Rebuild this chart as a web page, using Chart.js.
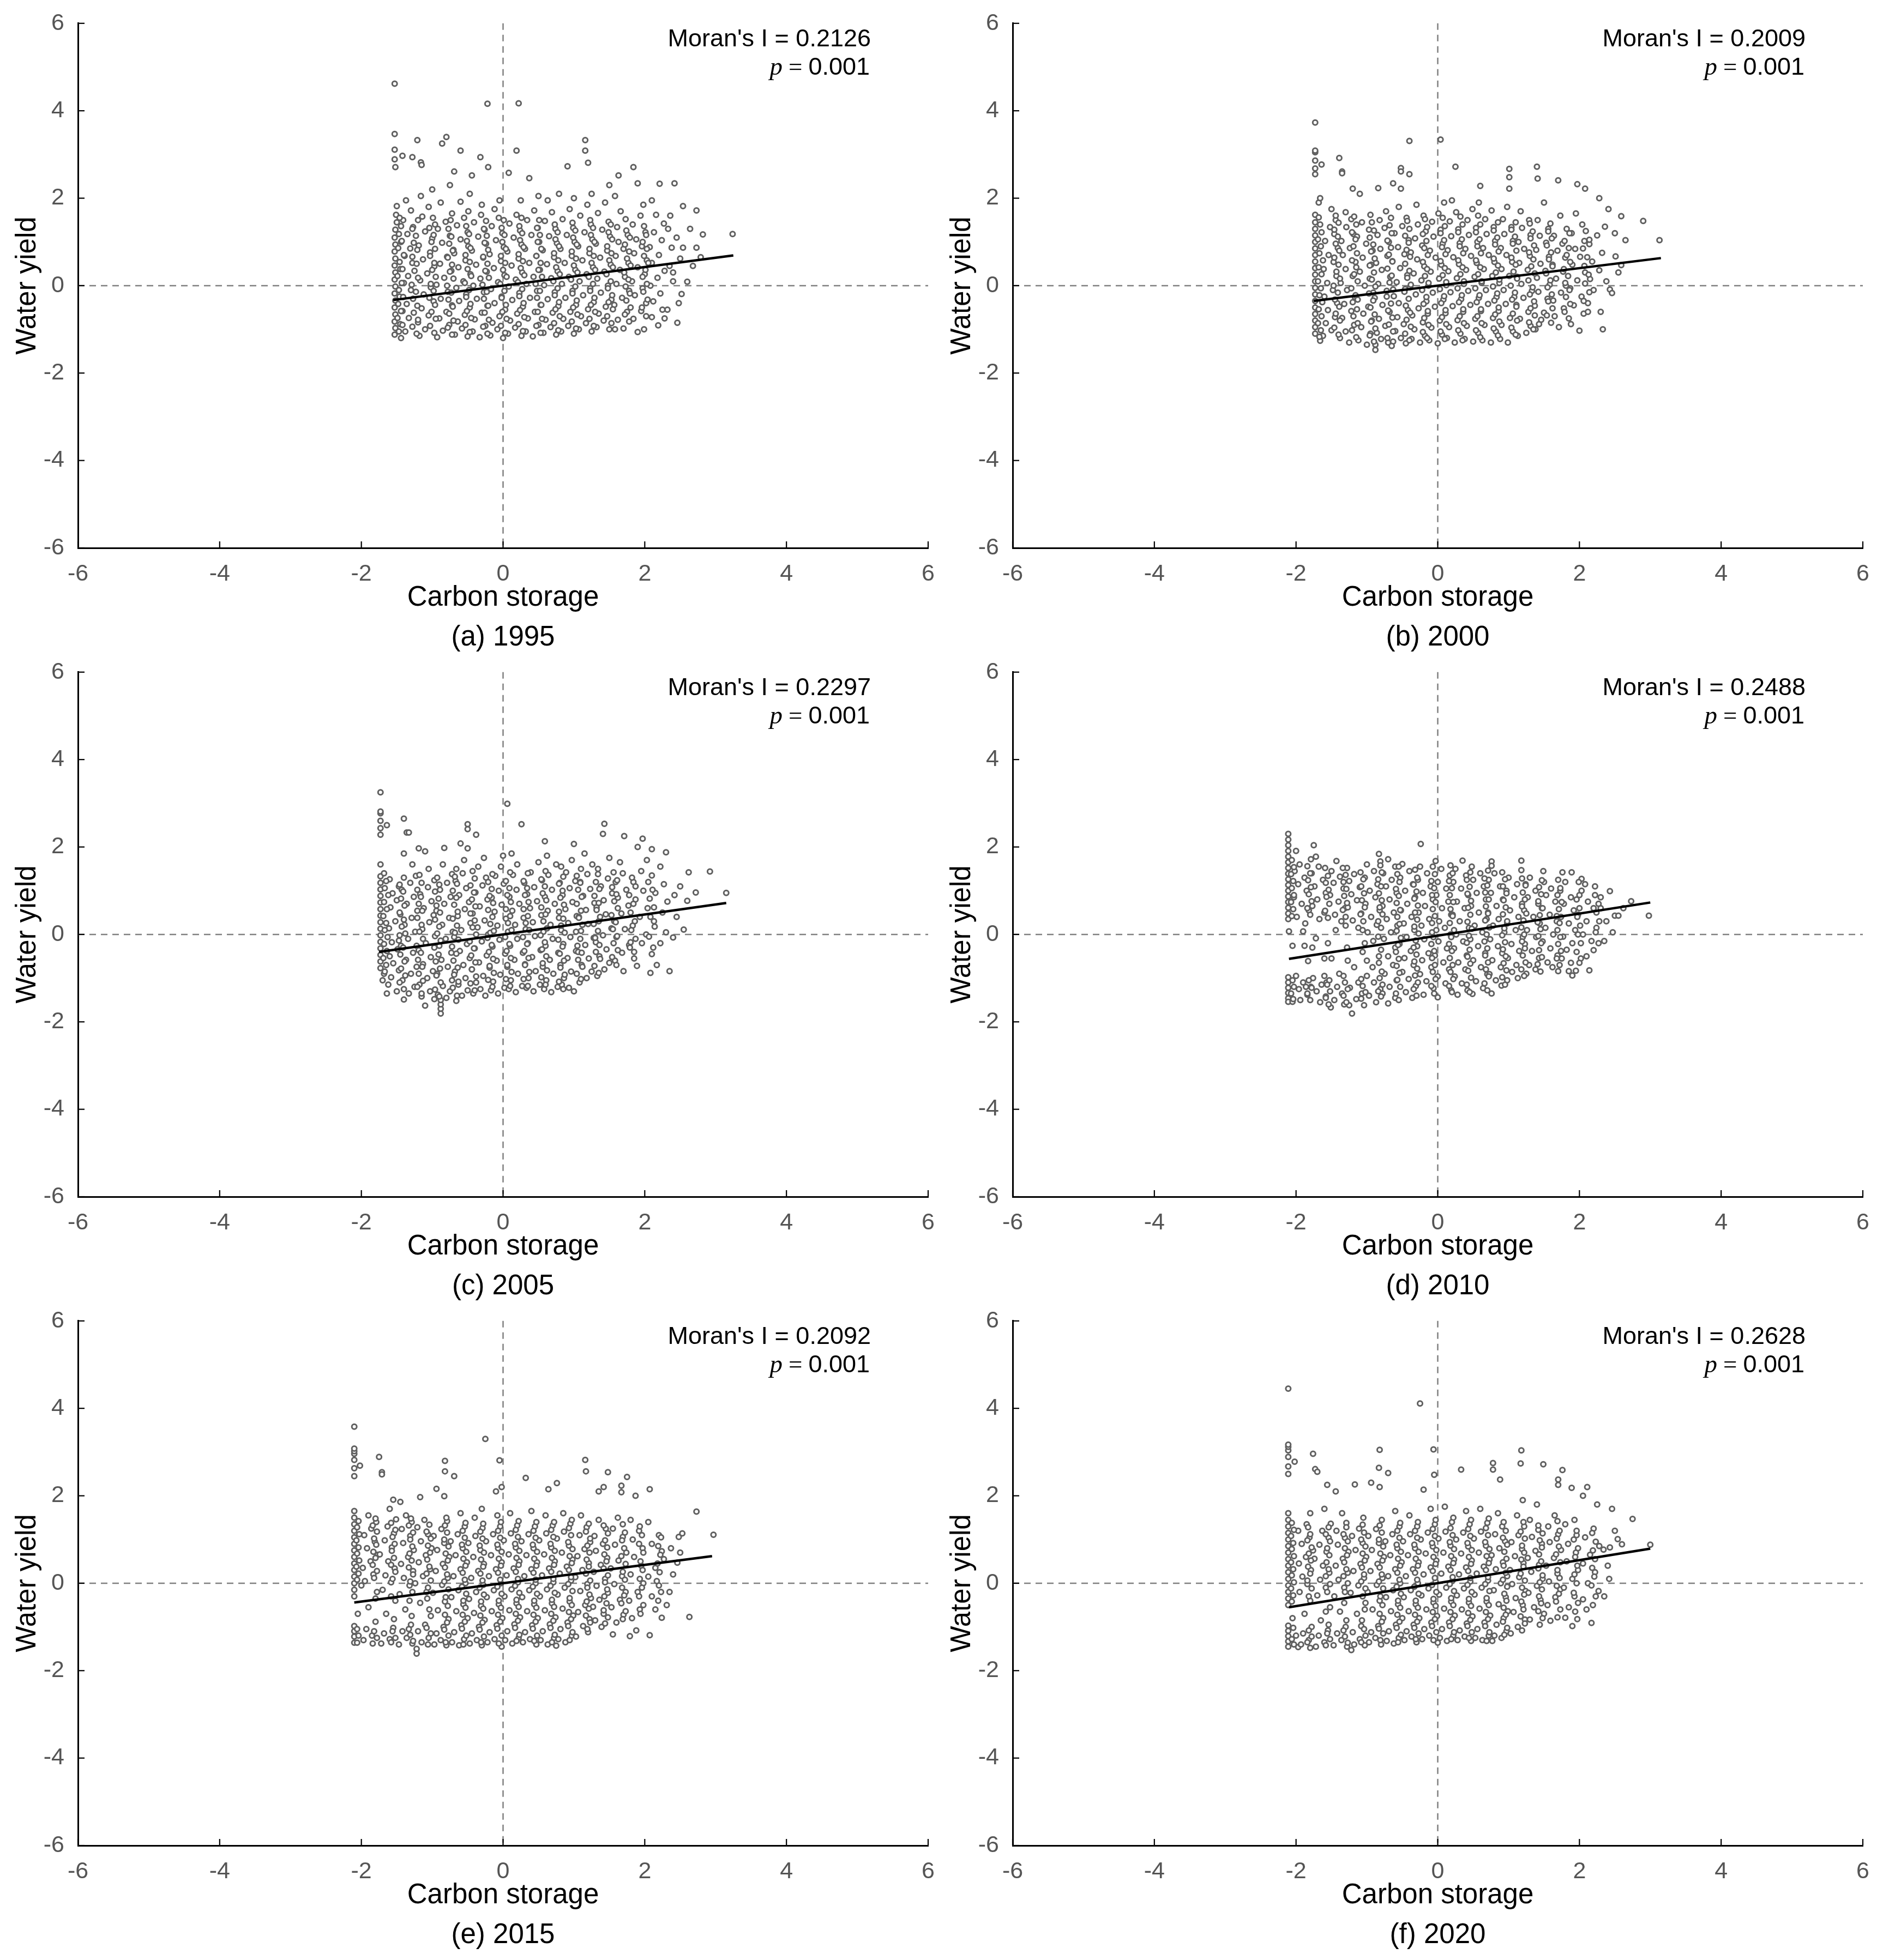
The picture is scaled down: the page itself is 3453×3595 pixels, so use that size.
<!DOCTYPE html>
<html><head><meta charset="utf-8">
<script src="https://cdn.jsdelivr.net/npm/chart.js@4.4.1/dist/chart.umd.min.js"></script>
<style>
html,body{margin:0;padding:0;background:#fff;}
#wrap{position:relative;width:3453px;height:3595px;background:#fff;overflow:hidden;}
canvas{position:absolute;}
</style>
</head><body><div id="wrap"></div>
<script>
// ---------------- data ----------------
const axisTicks = [-6, -4, -2, 0, 2, 4, 6];
const panelLabels = ['(a) 1995', '(b) 2000', '(c) 2005', '(d) 2010', '(e) 2015', '(f) 2020'];
const moranValues = ['0.2126', '0.2009', '0.2297', '0.2488', '0.2092', '0.2628'];
const pValues = ['0.001', '0.001', '0.001', '0.001', '0.001', '0.001'];
const xTitle = 'Carbon storage';
const yTitle = 'Water yield';

const fitA = [[-1.55, -0.33], [3.25, 0.69]];
const fitB = [[-1.75, -0.35], [3.15, 0.63]];
const fitC = [[-1.75, -0.40], [3.15, 0.72]];
const fitD = [[-2.10, -0.56], [3.00, 0.73]];
const fitE = [[-2.10, -0.44], [2.95, 0.62]];
const fitF = [[-2.10, -0.55], [3.00, 0.79]];

const pointsA = [
[-1.53,-1.12],[-1.52,-0.97],[-1.53,-0.82],[-1.52,-0.66],[-1.53,-0.5],[-1.52,-0.34],[-1.53,-0.18],[-1.52,-0.02],[-1.53,0.14],[-1.52,0.3],[-1.53,0.46],[-1.52,0.62],[-1.53,0.78],[-1.52,0.94],[-1.53,1.1],[-1.52,1.28],[-1.5,1.45],[-1.51,1.62],[-1.5,1.82],[-1.52,2.71],[-1.53,2.89],[-1.53,3.11],[-1.53,3.47],[-1.53,4.62],
[-1.44,-1.2],[-1.38,-1.05],[-1.45,-0.88],[-1.33,-0.74],[-1.42,-0.58],[-1.36,-0.42],[-1.46,-0.25],[-1.3,-0.1],[-1.4,0.06],[-1.34,0.22],[-1.45,0.38],[-1.28,0.52],[-1.39,0.68],[-1.31,0.85],[-1.44,1.0],[-1.35,1.18],[-1.27,1.34],[-1.41,1.5],[-1.3,1.72],[-1.37,1.95],[-1.42,2.97],[-1.28,2.94],[-1.21,3.33],
[-1.18,-1.15],[-1.1,-1.0],[-1.2,-0.84],[-1.05,-0.68],[-1.15,-0.52],[-0.98,-0.36],[-1.12,-0.2],[-1.02,-0.04],[-1.17,0.12],[-1.07,0.28],[-0.97,0.44],[-1.13,0.6],[-1.03,0.76],[-1.19,0.92],[-1.0,1.08],[-1.1,1.24],[-0.96,1.4],[-1.14,1.58],[-1.05,1.8],[-1.16,2.05],[-1.16,2.82],[-1.15,2.76],[-1.0,2.2],
[-0.93,-1.18],[-0.85,-1.03],[-0.76,-0.9],[-0.9,-0.75],[-0.8,-0.6],[-0.72,-0.45],[-0.88,-0.3],[-0.78,-0.14],[-0.94,0.02],[-0.83,0.18],[-0.73,0.34],[-0.89,0.5],[-0.79,0.66],[-0.7,0.82],[-0.86,0.98],[-0.75,1.14],[-0.92,1.3],[-0.81,1.46],[-0.72,1.65],[-0.88,1.9],[-0.8,3.4],[-0.86,3.25],[-0.75,2.3],
[-0.68,-1.12],[-0.58,-0.98],[-0.5,-1.16],[-0.64,-0.82],[-0.54,-0.67],[-0.47,-0.5],[-0.62,-0.35],[-0.52,-0.2],[-0.66,-0.05],[-0.56,0.1],[-0.46,0.26],[-0.63,0.42],[-0.53,0.58],[-0.69,0.74],[-0.49,0.9],[-0.6,1.06],[-0.5,1.22],[-0.65,1.38],[-0.55,1.55],[-0.6,3.09],[-0.69,2.61],[-0.6,1.92],[-0.47,2.1],
[-0.43,-1.05],[-0.33,-1.18],[-0.25,-0.92],[-0.4,-0.77],[-0.3,-0.62],[-0.22,-0.46],[-0.37,-0.3],[-0.27,-0.15],[-0.42,0.0],[-0.32,0.16],[-0.23,0.32],[-0.38,0.48],[-0.28,0.64],[-0.44,0.8],[-0.24,0.96],[-0.35,1.12],[-0.26,1.28],[-0.41,1.45],[-0.31,1.62],[-0.44,2.52],[-0.32,2.94],[-0.21,2.71],[-0.22,4.16],[-0.3,1.85],
[-0.18,-1.14],[-0.08,-1.0],[0.0,-1.2],[-0.15,-0.85],[-0.05,-0.7],[0.03,-0.55],[-0.12,-0.4],[-0.02,-0.25],[-0.17,-0.08],[-0.07,0.08],[0.02,0.24],[-0.13,0.4],[-0.03,0.56],[-0.19,0.72],[0.01,0.88],[-0.1,1.04],[-0.01,1.2],[-0.16,1.36],[-0.06,1.55],[-0.12,1.75],[0.08,2.58],[-0.05,1.95],
[0.07,-1.1],[0.17,-0.96],[0.26,-1.15],[0.1,-0.8],[0.2,-0.64],[0.28,-0.48],[0.13,-0.33],[0.23,-0.17],[0.08,-0.02],[0.18,0.14],[0.27,0.3],[0.12,0.46],[0.22,0.62],[0.06,0.78],[0.26,0.94],[0.15,1.1],[0.24,1.26],[0.09,1.42],[0.19,1.62],[0.19,3.09],[0.22,4.17],[0.25,1.95],
[0.32,-1.05],[0.42,-1.16],[0.5,-0.9],[0.35,-0.75],[0.45,-0.6],[0.53,-0.44],[0.38,-0.28],[0.48,-0.12],[0.33,0.04],[0.43,0.2],[0.52,0.36],[0.37,0.52],[0.47,0.68],[0.31,0.84],[0.51,1.0],[0.4,1.16],[0.49,1.32],[0.34,1.5],[0.44,1.72],[0.37,2.46],[0.5,2.05],
[0.57,-1.08],[0.67,-0.95],[0.75,-1.12],[0.6,-0.78],[0.7,-0.62],[0.78,-0.47],[0.63,-0.31],[0.73,-0.15],[0.58,0.01],[0.68,0.17],[0.77,0.33],[0.62,0.49],[0.72,0.65],[0.56,0.81],[0.76,0.97],[0.65,1.13],[0.74,1.3],[0.59,1.48],[0.69,1.68],[0.63,1.95],[0.79,2.1],
[0.82,-1.05],[0.92,-0.92],[1.0,-1.1],[0.85,-0.76],[0.95,-0.6],[1.03,-0.44],[0.88,-0.28],[0.98,-0.12],[0.83,0.04],[0.93,0.2],[1.02,0.36],[0.87,0.52],[0.97,0.68],[0.81,0.84],[1.01,1.0],[0.9,1.16],[0.99,1.32],[0.84,1.52],[0.94,1.75],[0.91,2.73],[1.0,2.0],
[1.07,-1.0],[1.17,-0.86],[1.25,-1.05],[1.1,-0.7],[1.2,-0.54],[1.28,-0.38],[1.13,-0.22],[1.23,-0.06],[1.08,0.1],[1.18,0.26],[1.27,0.42],[1.12,0.58],[1.22,0.74],[1.06,0.9],[1.26,1.06],[1.15,1.22],[1.24,1.4],[1.09,1.6],[1.19,1.85],[1.16,3.33],[1.16,3.09],[1.2,2.81],[1.25,2.1],
[1.32,-0.95],[1.42,-0.8],[1.5,-1.0],[1.35,-0.64],[1.45,-0.48],[1.53,-0.32],[1.38,-0.16],[1.48,0.0],[1.33,0.16],[1.43,0.32],[1.52,0.48],[1.37,0.64],[1.47,0.8],[1.31,0.96],[1.51,1.12],[1.4,1.28],[1.49,1.46],[1.34,1.66],[1.44,1.9],[1.5,2.3],
[1.58,-1.0],[1.7,-0.98],[1.62,-0.78],[1.75,-0.6],[1.57,-0.44],[1.68,-0.28],[1.78,-0.12],[1.6,0.04],[1.72,0.2],[1.65,0.36],[1.77,0.52],[1.59,0.68],[1.7,0.84],[1.63,1.0],[1.76,1.16],[1.61,1.34],[1.73,1.52],[1.66,1.7],[1.63,2.52],[1.58,2.05],
[1.9,-1.06],[1.99,-1.0],[1.84,-0.76],[1.95,-0.58],[2.02,-0.4],[1.86,-0.22],[1.97,-0.06],[1.82,0.1],[2.0,0.26],[1.9,0.42],[2.03,0.58],[1.85,0.74],[1.96,0.9],[1.88,1.06],[2.01,1.22],[1.83,1.4],[1.94,1.6],[1.84,2.71],[1.9,2.34],[1.98,1.85],
[2.19,-0.91],[2.1,-0.72],[2.25,-0.55],[2.12,-0.36],[2.22,-0.18],[2.08,0.0],[2.18,0.18],[2.28,0.34],[2.1,0.52],[2.2,0.7],[2.07,0.88],[2.24,1.04],[2.13,1.22],[2.27,1.42],[2.16,1.62],[2.21,2.33],[2.1,1.95],[2.28,-0.75],
[2.32,-0.55],[2.46,-0.85],[2.52,-0.19],[2.6,0.09],[2.4,0.1],[2.35,0.45],[2.5,0.62],[2.38,0.87],[2.54,0.87],[2.45,1.1],[2.33,1.3],[2.54,1.82],[2.42,2.34],[2.36,1.6],[2.48,-0.4],[2.4,0.3],
[2.73,1.72],[2.73,0.87],[2.79,0.65],[2.82,1.17],[3.24,1.18],[2.68,0.45],[2.64,1.3]
];
const coreA = [
[-1.47,-1.05],[-1.42,-0.9],[-1.49,-0.74],[-1.44,-0.58],[-1.48,-0.42],[-1.41,-0.26],[-1.47,-0.1],[-1.43,0.06],[-1.49,0.22],[-1.42,0.38],[-1.46,0.54],[-1.4,0.7],[-1.48,0.86],[-1.43,1.02],[-1.47,1.18],[-1.44,1.36],[-1.46,1.55],
[-1.22,-1.1],[-1.28,-0.94],[-1.2,-0.78],[-1.26,-0.62],[-1.21,-0.46],[-1.27,-0.3],[-1.23,-0.14],[-1.29,0.02],[-1.2,0.18],[-1.25,0.34],[-1.22,0.5],[-1.28,0.66],[-1.21,0.82],[-1.26,0.98],[-1.23,1.14],[-1.28,1.3],[-1.2,1.5],
[-0.97,-1.08],[-1.03,-0.92],[-0.95,-0.76],[-1.01,-0.6],[-0.96,-0.44],[-1.04,-0.28],[-0.98,-0.12],[-1.02,0.04],[-0.95,0.2],[-1.0,0.36],[-0.97,0.52],[-1.03,0.68],[-0.96,0.84],[-1.01,1.0],[-0.98,1.16],[-1.04,1.32],[-0.99,1.55],
[-0.72,-1.12],[-0.78,-0.96],[-0.7,-0.8],[-0.76,-0.64],[-0.71,-0.48],[-0.77,-0.32],[-0.73,-0.16],[-0.79,0.0],[-0.7,0.16],[-0.75,0.32],[-0.72,0.48],[-0.78,0.64],[-0.71,0.8],[-0.76,0.96],[-0.73,1.12],[-0.77,1.3],[-0.74,1.5],
[-0.47,-1.06],[-0.53,-0.9],[-0.45,-0.74],[-0.51,-0.58],[-0.46,-0.42],[-0.52,-0.26],[-0.48,-0.1],[-0.54,0.06],[-0.45,0.22],[-0.5,0.38],[-0.47,0.54],[-0.53,0.7],[-0.46,0.86],[-0.51,1.02],[-0.48,1.18],[-0.52,1.36],[-0.49,1.7],
[-0.22,-1.1],[-0.28,-0.94],[-0.2,-0.78],[-0.26,-0.62],[-0.21,-0.46],[-0.27,-0.3],[-0.23,-0.14],[-0.29,0.02],[-0.2,0.18],[-0.25,0.34],[-0.22,0.5],[-0.28,0.66],[-0.21,0.82],[-0.26,0.98],[-0.23,1.14],[-0.27,1.3],[-0.24,1.48],
[0.03,-1.08],[-0.03,-0.92],[0.05,-0.76],[-0.01,-0.6],[0.04,-0.44],[-0.02,-0.28],[0.02,-0.12],[-0.04,0.04],[0.05,0.2],[0.0,0.36],[0.03,0.52],[-0.03,0.68],[0.04,0.84],[-0.01,1.0],[0.02,1.16],[-0.02,1.32],[0.01,1.5],
[0.28,-1.04],[0.22,-0.88],[0.3,-0.72],[0.24,-0.56],[0.29,-0.4],[0.23,-0.24],[0.27,-0.08],[0.21,0.08],[0.3,0.24],[0.25,0.4],[0.28,0.56],[0.22,0.72],[0.29,0.88],[0.24,1.04],[0.27,1.2],[0.23,1.36],[0.26,1.55],
[0.53,-1.08],[0.47,-0.92],[0.55,-0.76],[0.49,-0.6],[0.54,-0.44],[0.48,-0.28],[0.52,-0.12],[0.46,0.04],[0.55,0.2],[0.5,0.36],[0.53,0.52],[0.47,0.68],[0.54,0.84],[0.49,1.0],[0.52,1.16],[0.48,1.32],[0.51,1.5],
[0.78,-1.02],[0.72,-0.86],[0.8,-0.7],[0.74,-0.54],[0.79,-0.38],[0.73,-0.22],[0.77,-0.06],[0.71,0.1],[0.8,0.26],[0.75,0.42],[0.78,0.58],[0.72,0.74],[0.79,0.9],[0.74,1.06],[0.77,1.22],[0.73,1.4],
[1.03,-0.98],[0.97,-0.82],[1.05,-0.66],[0.99,-0.5],[1.04,-0.34],[0.98,-0.18],[1.02,-0.02],[0.96,0.14],[1.05,0.3],[1.0,0.46],[1.03,0.62],[0.97,0.78],[1.04,0.94],[0.99,1.1],[1.02,1.26],[0.98,1.44],
[1.28,-0.92],[1.22,-0.76],[1.3,-0.6],[1.24,-0.44],[1.29,-0.28],[1.23,-0.12],[1.27,0.04],[1.21,0.2],[1.3,0.36],[1.25,0.52],[1.28,0.68],[1.22,0.84],[1.29,1.0],[1.24,1.16],[1.27,1.32],[1.23,1.5],
[1.53,-0.86],[1.47,-0.7],[1.55,-0.54],[1.49,-0.38],[1.54,-0.22],[1.48,-0.06],[1.52,0.1],[1.46,0.26],[1.55,0.42],[1.5,0.58],[1.53,0.74],[1.47,0.9],[1.54,1.06],[1.49,1.22],[1.52,1.4],
[1.78,-0.82],[1.72,-0.66],[1.8,-0.5],[1.74,-0.34],[1.79,-0.18],[1.73,-0.02],[1.77,0.14],[1.71,0.3],[1.8,0.46],[1.75,0.62],[1.78,0.78],[1.72,0.94],[1.79,1.1],[1.74,1.26],
[2.02,-0.7],[1.96,-0.5],[2.04,-0.32],[1.98,-0.14],[2.03,0.04],[1.97,0.2],[2.01,0.36],[2.05,0.52],[1.99,0.68],[2.03,0.84],[1.97,1.0],[2.02,1.16],[1.99,1.36]
];

const pointsB = [
[-1.73,-1.1],[-1.73,-0.95],[-1.73,-0.8],[-1.73,-0.65],[-1.73,-0.5],[-1.73,-0.35],[-1.73,-0.2],[-1.73,-0.05],[-1.73,0.1],[-1.73,0.25],[-1.73,0.4],[-1.73,0.55],[-1.73,0.7],[-1.73,0.85],[-1.73,1.0],[-1.73,1.15],[-1.73,1.3],[-1.73,1.45],[-1.73,1.62],[-1.73,2.55],[-1.73,2.68],[-1.73,2.86],[-1.73,3.05],[-1.73,3.09],[-1.73,3.73],[-1.64,2.77],[-1.66,-1.26],[-1.68,1.9],[-1.66,2.0],
[-1.62,-1.15],[-1.5,-1.02],[-1.58,-0.86],[-1.45,-0.72],[-1.55,-0.56],[-1.42,-0.4],[-1.6,-0.25],[-1.48,-0.1],[-1.56,0.06],[-1.43,0.22],[-1.61,0.38],[-1.47,0.54],[-1.54,0.7],[-1.41,0.86],[-1.59,1.02],[-1.46,1.18],[-1.52,1.34],[-1.44,1.5],[-1.39,2.92],[-1.35,2.61],[-1.35,2.57],[-1.5,1.75],
[-1.38,-1.2],[-1.25,-1.3],[-1.3,-1.05],[-1.18,-0.9],[-1.35,-0.74],[-1.22,-0.58],[-1.32,-0.42],[-1.17,-0.26],[-1.28,-0.1],[-1.37,0.06],[-1.2,0.22],[-1.3,0.38],[-1.16,0.54],[-1.34,0.7],[-1.24,0.86],[-1.36,1.02],[-1.19,1.18],[-1.29,1.34],[-1.22,1.52],[-1.2,2.22],[-1.1,2.1],[-1.3,1.68],
[-1.12,-1.25],[-1.0,-1.35],[-0.95,-1.1],[-1.08,-0.95],[-0.93,-0.8],[-1.05,-0.64],[-0.98,-0.48],[-1.13,-0.32],[-0.91,-0.16],[-1.03,0.0],[-0.96,0.16],[-1.1,0.32],[-0.94,0.48],[-1.06,0.64],[-0.92,0.8],[-1.01,0.96],[-1.14,1.12],[-0.97,1.28],[-1.07,1.45],[-0.95,1.62],
[-0.88,-1.47],[-0.88,-1.35],[-0.8,-1.22],[-0.7,-1.3],[-0.86,-1.08],[-0.74,-0.92],[-0.83,-0.76],[-0.68,-0.6],[-0.78,-0.44],[-0.89,-0.28],[-0.72,-0.12],[-0.84,0.04],[-0.67,0.2],[-0.79,0.36],[-0.87,0.52],[-0.71,0.68],[-0.81,0.84],[-0.69,1.0],[-0.85,1.16],[-0.75,1.32],[-0.82,1.5],[-0.84,2.23],[-0.73,1.7],
[-0.63,-1.28],[-0.52,-1.2],[-0.45,-1.32],[-0.6,-1.04],[-0.48,-0.88],[-0.57,-0.72],[-0.42,-0.56],[-0.55,-0.4],[-0.62,-0.24],[-0.46,-0.08],[-0.58,0.08],[-0.43,0.24],[-0.53,0.4],[-0.64,0.56],[-0.47,0.72],[-0.56,0.88],[-0.41,1.04],[-0.61,1.2],[-0.5,1.36],[-0.44,1.55],[-0.63,2.34],[-0.52,2.69],[-0.52,2.61],[-0.4,2.55],[-0.52,2.22],[-0.4,3.31],[-0.55,1.8],
[-0.37,-1.22],[-0.25,-1.3],[-0.18,-1.15],[-0.33,-1.0],[-0.21,-0.84],[-0.36,-0.68],[-0.27,-0.52],[-0.16,-0.36],[-0.31,-0.2],[-0.39,-0.04],[-0.23,0.12],[-0.34,0.28],[-0.19,0.44],[-0.29,0.6],[-0.38,0.76],[-0.22,0.92],[-0.32,1.08],[-0.17,1.24],[-0.28,1.4],[-0.2,1.6],[-0.3,1.85],
[-0.12,-1.25],[0.0,-1.32],[0.06,-1.12],[-0.09,-0.96],[0.03,-0.8],[-0.14,-0.64],[-0.04,-0.48],[0.08,-0.32],[-0.07,-0.16],[-0.13,0.0],[0.02,0.16],[-0.1,0.32],[0.05,0.48],[-0.03,0.64],[-0.11,0.8],[0.07,0.96],[-0.06,1.12],[0.04,1.28],[-0.08,1.46],[0.01,1.65],[0.04,3.34],[0.09,1.9],
[0.13,-1.2],[0.24,-1.3],[0.32,-1.1],[0.16,-0.95],[0.28,-0.79],[0.11,-0.63],[0.21,-0.47],[0.33,-0.31],[0.18,-0.15],[0.12,0.01],[0.27,0.17],[0.15,0.33],[0.3,0.49],[0.22,0.65],[0.14,0.81],[0.31,0.97],[0.19,1.13],[0.29,1.29],[0.17,1.47],[0.26,1.68],[0.25,2.72],[0.2,1.95],
[0.38,-1.22],[0.5,-1.28],[0.57,-1.08],[0.41,-0.92],[0.53,-0.76],[0.36,-0.6],[0.46,-0.44],[0.58,-0.28],[0.43,-0.12],[0.37,0.04],[0.52,0.2],[0.4,0.36],[0.55,0.52],[0.47,0.68],[0.39,0.84],[0.56,1.0],[0.44,1.16],[0.54,1.32],[0.42,1.5],[0.6,2.28],[0.49,1.75],[0.58,1.9],
[0.63,-1.25],[0.75,-1.3],[0.82,-1.05],[0.66,-0.9],[0.78,-0.74],[0.61,-0.58],[0.71,-0.42],[0.83,-0.26],[0.68,-0.1],[0.62,0.06],[0.77,0.22],[0.65,0.38],[0.8,0.54],[0.72,0.7],[0.64,0.86],[0.81,1.02],[0.69,1.18],[0.79,1.34],[0.67,1.52],[0.76,1.72],
[0.88,-1.22],[0.99,-1.3],[1.06,-1.05],[0.9,-0.9],[1.02,-0.74],[0.86,-0.58],[0.96,-0.42],[1.08,-0.26],[0.93,-0.1],[0.87,0.06],[1.01,0.22],[0.9,0.38],[1.05,0.54],[0.97,0.7],[0.89,0.86],[1.06,1.02],[0.94,1.18],[1.04,1.34],[0.92,1.52],[1.01,2.67],[1.01,2.48],[1.01,2.22],[0.98,1.8],
[1.13,-1.15],[1.25,-1.08],[1.31,-0.92],[1.16,-0.76],[1.28,-0.6],[1.11,-0.44],[1.21,-0.28],[1.33,-0.12],[1.18,0.04],[1.12,0.2],[1.27,0.36],[1.15,0.52],[1.3,0.68],[1.22,0.84],[1.14,1.0],[1.31,1.16],[1.19,1.32],[1.29,1.5],[1.17,1.7],
[1.43,-0.88],[1.46,-0.78],[1.38,-1.0],[1.5,-0.62],[1.37,-0.46],[1.55,-0.3],[1.42,-0.14],[1.58,0.02],[1.4,0.18],[1.52,0.34],[1.45,0.5],[1.57,0.66],[1.39,0.82],[1.53,0.98],[1.44,1.14],[1.56,1.3],[1.41,1.5],[1.4,2.72],[1.41,2.45],[1.5,1.9],
[1.71,-0.95],[1.65,-0.7],[1.78,-0.52],[1.63,-0.34],[1.74,-0.16],[1.81,0.0],[1.67,0.16],[1.77,0.32],[1.62,0.48],[1.8,0.64],[1.69,0.8],[1.76,0.96],[1.64,1.14],[1.82,1.3],[1.7,2.41],[1.73,1.6],
[1.88,-0.88],[2.0,-1.03],[2.06,-0.64],[1.92,-0.45],[2.03,-0.25],[1.87,-0.06],[1.97,0.12],[2.08,0.3],[1.9,0.48],[2.01,0.66],[1.94,0.84],[2.07,1.02],[1.89,1.2],[2.04,1.4],[1.97,2.32],[2.08,2.22],[1.95,1.65],
[2.12,-0.4],[2.2,-0.1],[2.33,-1.0],[2.15,0.15],[2.28,0.35],[2.38,0.1],[2.18,0.55],[2.32,0.75],[2.14,0.95],[2.25,1.15],[2.36,1.35],[2.28,2.0],[2.41,1.75],[2.43,-0.09],[2.3,-0.6],
[2.46,-0.17],[2.51,0.67],[2.59,0.47],[2.59,1.59],[2.65,1.04],[2.9,1.48],[3.13,1.04],[2.5,1.2],[2.55,0.3]
];
const coreB = [
[-1.67,-1.17],[-1.65,-1.02],[-1.69,-0.86],[-1.64,-0.7],[-1.68,-0.54],[-1.63,-0.38],[-1.67,-0.22],[-1.65,-0.06],[-1.69,0.1],[-1.64,0.26],[-1.68,0.42],[-1.62,0.58],[-1.67,0.74],[-1.65,0.9],[-1.69,1.06],[-1.64,1.22],[-1.66,1.4],[-1.68,1.56],
[-1.4,-1.12],[-1.46,-0.96],[-1.38,-0.8],[-1.44,-0.64],[-1.39,-0.48],[-1.45,-0.32],[-1.41,-0.16],[-1.47,0.0],[-1.38,0.16],[-1.43,0.32],[-1.4,0.48],[-1.46,0.64],[-1.39,0.8],[-1.44,0.96],[-1.41,1.12],[-1.46,1.28],[-1.4,1.44],[-1.44,1.6],
[-1.15,-1.18],[-1.21,-1.02],[-1.13,-0.86],[-1.19,-0.7],[-1.14,-0.54],[-1.2,-0.38],[-1.16,-0.22],[-1.22,-0.06],[-1.13,0.1],[-1.18,0.26],[-1.15,0.42],[-1.21,0.58],[-1.14,0.74],[-1.19,0.9],[-1.16,1.06],[-1.21,1.22],[-1.15,1.4],[-1.18,1.58],
[-0.9,-1.28],[-0.96,-1.14],[-0.88,-0.98],[-0.94,-0.82],[-0.89,-0.66],[-0.95,-0.5],[-0.91,-0.34],[-0.97,-0.18],[-0.88,-0.02],[-0.93,0.14],[-0.9,0.3],[-0.96,0.46],[-0.89,0.62],[-0.94,0.78],[-0.91,0.94],[-0.96,1.1],[-0.9,1.26],[-0.93,1.45],
[-0.65,-1.38],[-0.71,-1.2],[-0.63,-1.05],[-0.69,-0.89],[-0.64,-0.73],[-0.7,-0.57],[-0.66,-0.41],[-0.72,-0.25],[-0.63,-0.09],[-0.68,0.07],[-0.65,0.23],[-0.71,0.39],[-0.64,0.55],[-0.69,0.71],[-0.66,0.87],[-0.71,1.03],[-0.65,1.2],[-0.68,1.38],[-0.66,1.55],
[-0.4,-1.25],[-0.46,-1.1],[-0.38,-0.94],[-0.44,-0.78],[-0.39,-0.62],[-0.45,-0.46],[-0.41,-0.3],[-0.47,-0.14],[-0.38,0.02],[-0.43,0.18],[-0.4,0.34],[-0.46,0.5],[-0.39,0.66],[-0.44,0.82],[-0.41,0.98],[-0.46,1.14],[-0.4,1.3],[-0.43,1.48],
[-0.15,-1.2],[-0.21,-1.06],[-0.13,-0.9],[-0.19,-0.74],[-0.14,-0.58],[-0.2,-0.42],[-0.16,-0.26],[-0.22,-0.1],[-0.13,0.06],[-0.18,0.22],[-0.15,0.38],[-0.21,0.54],[-0.14,0.7],[-0.19,0.86],[-0.16,1.02],[-0.21,1.18],[-0.15,1.34],[-0.18,1.52],
[0.1,-1.22],[0.04,-1.05],[0.12,-0.88],[0.06,-0.72],[0.11,-0.56],[0.05,-0.4],[0.09,-0.24],[0.03,-0.08],[0.12,0.08],[0.07,0.24],[0.1,0.4],[0.04,0.56],[0.11,0.72],[0.06,0.88],[0.09,1.04],[0.04,1.2],[0.1,1.36],[0.07,1.55],
[0.35,-1.25],[0.29,-1.02],[0.37,-0.86],[0.31,-0.7],[0.36,-0.54],[0.3,-0.38],[0.34,-0.22],[0.28,-0.06],[0.37,0.1],[0.32,0.26],[0.35,0.42],[0.29,0.58],[0.36,0.74],[0.31,0.9],[0.34,1.06],[0.29,1.22],[0.35,1.4],[0.32,1.58],
[0.6,-1.18],[0.54,-1.02],[0.62,-0.86],[0.56,-0.7],[0.61,-0.54],[0.55,-0.38],[0.59,-0.22],[0.53,-0.06],[0.62,0.1],[0.57,0.26],[0.6,0.42],[0.54,0.58],[0.61,0.74],[0.56,0.9],[0.59,1.06],[0.54,1.22],[0.6,1.4],[0.57,1.6],
[0.85,-1.14],[0.79,-0.98],[0.87,-0.82],[0.81,-0.66],[0.86,-0.5],[0.8,-0.34],[0.84,-0.18],[0.78,-0.02],[0.87,0.14],[0.82,0.3],[0.85,0.46],[0.79,0.62],[0.86,0.78],[0.81,0.94],[0.84,1.1],[0.79,1.26],[0.85,1.45],
[1.1,-1.12],[1.04,-0.96],[1.12,-0.8],[1.06,-0.64],[1.11,-0.48],[1.05,-0.32],[1.09,-0.16],[1.03,0.0],[1.12,0.16],[1.07,0.32],[1.1,0.48],[1.04,0.64],[1.11,0.8],[1.06,0.96],[1.09,1.12],[1.04,1.28],[1.1,1.45],
[1.35,-1.0],[1.29,-0.84],[1.37,-0.68],[1.31,-0.52],[1.36,-0.36],[1.3,-0.2],[1.34,-0.04],[1.28,0.12],[1.37,0.28],[1.32,0.44],[1.35,0.6],[1.29,0.76],[1.36,0.92],[1.31,1.08],[1.34,1.24],[1.3,1.42],
[1.6,-0.85],[1.54,-0.68],[1.62,-0.52],[1.56,-0.36],[1.61,-0.2],[1.55,-0.04],[1.59,0.12],[1.53,0.28],[1.62,0.44],[1.57,0.6],[1.6,0.76],[1.54,0.92],[1.61,1.08],[1.56,1.24],[1.59,1.42],
[1.85,-0.75],[1.79,-0.6],[1.87,-0.42],[1.81,-0.26],[1.86,-0.1],[1.8,0.06],[1.84,0.22],[1.78,0.38],[1.87,0.54],[1.82,0.7],[1.85,0.86],[1.79,1.02],[1.86,1.2],
[2.12,-0.6],[2.06,-0.35],[2.14,-0.15],[2.08,0.05],[2.13,0.25],[2.07,0.45],[2.11,0.65],[2.05,0.85],[2.14,1.05],[2.09,1.25]
];

const pointsC = [
[-1.73,-0.77],[-1.73,-0.62],[-1.73,-0.47],[-1.73,-0.32],[-1.73,-0.17],[-1.73,-0.02],[-1.73,0.13],[-1.73,0.28],[-1.73,0.43],[-1.73,0.58],[-1.73,0.73],[-1.73,0.88],[-1.73,1.03],[-1.73,1.18],[-1.73,1.33],[-1.73,1.6],[-1.73,2.28],[-1.73,2.43],[-1.73,2.6],[-1.73,2.77],[-1.73,2.81],[-1.73,3.25],[-1.7,-1.05],[-1.68,-0.9],[-1.64,2.5],[-1.64,-1.35],
[-1.62,-1.15],[-1.5,-1.3],[-1.58,-0.98],[-1.47,-0.82],[-1.55,-0.66],[-1.6,-0.5],[-1.49,-0.34],[-1.57,-0.18],[-1.46,-0.02],[-1.61,0.14],[-1.52,0.3],[-1.45,0.46],[-1.59,0.62],[-1.5,0.78],[-1.56,0.94],[-1.47,1.1],[-1.6,1.26],[-1.4,1.85],[-1.4,2.65],
[-1.4,-1.49],[-1.33,-1.35],[-1.25,-1.2],[-1.42,-1.05],[-1.3,-0.9],[-1.22,-0.74],[-1.37,-0.58],[-1.27,-0.42],[-1.44,-0.26],[-1.34,-0.1],[-1.24,0.06],[-1.39,0.22],[-1.29,0.38],[-1.21,0.54],[-1.36,0.7],[-1.26,0.86],[-1.43,1.02],[-1.31,1.18],[-1.23,1.34],[-1.36,2.33],[-1.33,2.33],[-1.28,1.6],
[-1.1,-1.63],[-1.15,-1.42],[-1.03,-1.3],[-0.97,-1.48],[-1.18,-1.15],[-1.07,-1.0],[-0.99,-0.84],[-1.13,-0.68],[-1.02,-0.52],[-1.19,-0.36],[-1.09,-0.2],[-0.96,-0.04],[-1.14,0.12],[-1.04,0.28],[-0.98,0.44],[-1.12,0.6],[-1.01,0.76],[-1.17,0.92],[-1.06,1.08],[-0.97,1.24],[-1.19,1.97],[-1.1,1.9],[-1.05,1.5],
[-0.88,-1.81],[-0.88,-1.7],[-0.88,-1.6],[-0.88,-1.5],[-0.92,-1.38],[-0.8,-1.45],[-0.75,-1.3],[-0.85,-1.18],[-0.72,-1.05],[-0.93,-0.9],[-0.78,-0.74],[-0.87,-0.58],[-0.73,-0.42],[-0.9,-0.26],[-0.81,-0.1],[-0.71,0.06],[-0.86,0.22],[-0.76,0.38],[-0.94,0.54],[-0.83,0.7],[-0.74,0.86],[-0.89,1.02],[-0.79,1.18],[-0.72,1.38],[-0.83,1.98],[-0.85,1.6],
[-0.66,-1.52],[-0.58,-1.4],[-0.5,-1.28],[-0.63,-1.15],[-0.53,-1.0],[-0.68,-0.85],[-0.56,-0.7],[-0.47,-0.54],[-0.61,-0.38],[-0.51,-0.22],[-0.69,-0.06],[-0.59,0.1],[-0.46,0.26],[-0.64,0.42],[-0.54,0.58],[-0.48,0.74],[-0.62,0.9],[-0.52,1.06],[-0.67,1.22],[-0.57,1.4],[-0.6,2.08],[-0.5,1.97],[-0.5,2.52],[-0.5,2.41],[-0.55,1.7],
[-0.42,-1.35],[-0.32,-1.25],[-0.25,-1.4],[-0.38,-1.1],[-0.28,-0.95],[-0.44,-0.8],[-0.34,-0.64],[-0.23,-0.48],[-0.4,-0.32],[-0.3,-0.16],[-0.21,0.0],[-0.36,0.16],[-0.26,0.32],[-0.43,0.48],[-0.33,0.64],[-0.22,0.8],[-0.39,0.96],[-0.29,1.12],[-0.24,1.3],[-0.38,2.28],[-0.35,1.55],[-0.27,1.75],
[-0.17,-1.28],[-0.07,-1.35],[0.02,-1.22],[-0.14,-1.08],[-0.04,-0.92],[-0.19,-0.76],[-0.09,-0.6],[0.03,-0.44],[-0.15,-0.28],[-0.05,-0.12],[-0.18,0.04],[-0.08,0.2],[0.04,0.36],[-0.12,0.52],[-0.02,0.68],[-0.16,0.84],[-0.06,1.0],[0.01,1.16],[-0.11,1.34],[0.06,2.99],[-0.03,1.55],[0.0,1.8],
[0.08,-1.25],[0.18,-1.32],[0.27,-1.18],[0.11,-1.05],[0.21,-0.9],[0.06,-0.74],[0.16,-0.58],[0.28,-0.42],[0.1,-0.26],[0.2,-0.1],[0.07,0.06],[0.17,0.22],[0.29,0.38],[0.13,0.54],[0.23,0.7],[0.09,0.86],[0.19,1.02],[0.3,1.18],[0.14,1.36],[0.26,2.52],[0.2,1.6],[0.12,1.85],
[0.33,-1.22],[0.43,-1.3],[0.52,-1.15],[0.36,-1.0],[0.46,-0.84],[0.31,-0.68],[0.41,-0.52],[0.53,-0.36],[0.35,-0.2],[0.45,-0.04],[0.32,0.12],[0.42,0.28],[0.54,0.44],[0.38,0.6],[0.48,0.76],[0.34,0.92],[0.44,1.08],[0.55,1.24],[0.39,1.42],[0.5,1.65],
[0.58,-1.25],[0.68,-1.32],[0.77,-1.2],[0.61,-1.05],[0.71,-0.9],[0.56,-0.74],[0.66,-0.58],[0.78,-0.42],[0.6,-0.26],[0.7,-0.1],[0.57,0.06],[0.67,0.22],[0.79,0.38],[0.63,0.54],[0.73,0.7],[0.59,0.86],[0.69,1.02],[0.8,1.18],[0.64,1.36],[0.59,2.13],[0.75,1.6],[0.62,1.8],
[0.83,-1.15],[0.93,-1.22],[1.0,-1.3],[0.86,-1.0],[0.96,-0.85],[0.81,-0.7],[0.91,-0.54],[1.03,-0.38],[0.85,-0.22],[0.95,-0.06],[0.82,0.1],[0.92,0.26],[1.04,0.42],[0.88,0.58],[0.98,0.74],[0.84,0.9],[0.94,1.06],[1.02,1.22],[0.89,1.42],[1.0,2.07],[0.97,1.7],
[1.08,-1.1],[1.18,-1.0],[1.25,-0.85],[1.11,-0.7],[1.21,-0.55],[1.06,-0.4],[1.16,-0.24],[1.28,-0.08],[1.1,0.08],[1.2,0.24],[1.07,0.4],[1.17,0.56],[1.29,0.72],[1.13,0.88],[1.23,1.04],[1.09,1.2],[1.19,1.38],[1.26,1.6],[1.15,1.85],
[1.33,-0.95],[1.43,-0.8],[1.5,-0.65],[1.36,-0.5],[1.46,-0.34],[1.31,-0.18],[1.41,-0.02],[1.53,0.14],[1.35,0.3],[1.45,0.46],[1.32,0.62],[1.42,0.78],[1.54,0.94],[1.38,1.1],[1.48,1.28],[1.34,1.5],[1.43,2.53],[1.41,2.3],[1.5,1.75],
[1.7,-0.84],[1.58,-0.6],[1.68,-0.42],[1.78,-0.24],[1.6,-0.06],[1.8,-0.18],[1.72,0.12],[1.57,0.3],[1.67,0.48],[1.77,0.66],[1.62,0.84],[1.74,1.02],[1.59,1.2],[1.69,1.4],[1.71,2.25],[1.65,1.65],
[1.89,-0.72],[1.85,-0.4],[1.96,-0.2],[2.02,0.0],[1.83,0.2],[1.93,0.4],[2.04,0.6],[1.87,0.8],[1.98,1.0],[1.84,1.2],[1.95,1.45],[1.97,2.19],[1.9,2.0],[2.03,1.7],
[2.08,-0.88],[2.17,-0.7],[2.1,-0.45],[2.22,-0.2],[2.3,0.05],[2.13,0.3],[2.25,0.5],[2.32,0.75],[2.15,0.95],[2.27,1.15],[2.1,1.35],[2.3,1.88],[2.1,1.95],[2.22,1.55],[2.35,-0.84],
[2.4,-0.07],[2.55,0.11],[2.45,0.4],[2.6,0.77],[2.72,0.96],[2.62,1.42],[2.92,1.44],[3.15,0.95],[2.5,1.1],[2.42,0.9]
];
const coreC = [
[-1.67,-0.85],[-1.65,-0.7],[-1.69,-0.54],[-1.64,-0.38],[-1.68,-0.22],[-1.63,-0.06],[-1.67,0.1],[-1.65,0.26],[-1.69,0.42],[-1.64,0.58],[-1.68,0.74],[-1.62,0.9],[-1.67,1.06],[-1.65,1.22],[-1.68,1.4],
[-1.4,-1.25],[-1.46,-1.1],[-1.38,-0.94],[-1.44,-0.78],[-1.39,-0.62],[-1.45,-0.46],[-1.41,-0.3],[-1.47,-0.14],[-1.38,0.02],[-1.43,0.18],[-1.4,0.34],[-1.46,0.5],[-1.39,0.66],[-1.44,0.82],[-1.41,0.98],[-1.46,1.14],[-1.4,1.3],
[-1.15,-1.35],[-1.21,-1.2],[-1.13,-1.06],[-1.19,-0.9],[-1.14,-0.74],[-1.2,-0.58],[-1.16,-0.42],[-1.22,-0.26],[-1.13,-0.1],[-1.18,0.06],[-1.15,0.22],[-1.21,0.38],[-1.14,0.54],[-1.19,0.7],[-1.16,0.86],[-1.21,1.02],[-1.15,1.18],[-1.18,1.36],
[-0.9,-1.42],[-0.96,-1.26],[-0.88,-1.1],[-0.94,-0.94],[-0.89,-0.78],[-0.95,-0.62],[-0.91,-0.46],[-0.97,-0.3],[-0.88,-0.14],[-0.93,0.02],[-0.9,0.18],[-0.96,0.34],[-0.89,0.5],[-0.94,0.66],[-0.91,0.82],[-0.96,0.98],[-0.9,1.14],[-0.93,1.3],
[-0.65,-1.4],[-0.71,-1.22],[-0.63,-1.08],[-0.69,-0.92],[-0.64,-0.76],[-0.7,-0.6],[-0.66,-0.44],[-0.72,-0.28],[-0.63,-0.12],[-0.68,0.04],[-0.65,0.2],[-0.71,0.36],[-0.64,0.52],[-0.69,0.68],[-0.66,0.84],[-0.71,1.0],[-0.65,1.16],[-0.68,1.32],[-0.66,1.5],
[-0.4,-1.28],[-0.46,-1.12],[-0.38,-0.96],[-0.44,-0.8],[-0.39,-0.64],[-0.45,-0.48],[-0.41,-0.32],[-0.47,-0.16],[-0.38,0.0],[-0.43,0.16],[-0.4,0.32],[-0.46,0.48],[-0.39,0.64],[-0.44,0.8],[-0.41,0.96],[-0.46,1.12],[-0.4,1.28],[-0.43,1.45],
[-0.15,-1.2],[-0.21,-1.04],[-0.13,-0.88],[-0.19,-0.72],[-0.14,-0.56],[-0.2,-0.4],[-0.16,-0.24],[-0.22,-0.08],[-0.13,0.08],[-0.18,0.24],[-0.15,0.4],[-0.21,0.56],[-0.14,0.72],[-0.19,0.88],[-0.16,1.04],[-0.21,1.2],[-0.15,1.38],
[0.1,-1.18],[0.04,-1.02],[0.12,-0.86],[0.06,-0.7],[0.11,-0.54],[0.05,-0.38],[0.09,-0.22],[0.03,-0.06],[0.12,0.1],[0.07,0.26],[0.1,0.42],[0.04,0.58],[0.11,0.74],[0.06,0.9],[0.09,1.06],[0.04,1.22],[0.1,1.42],
[0.35,-1.18],[0.29,-1.02],[0.37,-0.86],[0.31,-0.7],[0.36,-0.54],[0.3,-0.38],[0.34,-0.22],[0.28,-0.06],[0.37,0.1],[0.32,0.26],[0.35,0.42],[0.29,0.58],[0.36,0.74],[0.31,0.9],[0.34,1.06],[0.29,1.22],[0.35,1.4],
[0.6,-1.15],[0.54,-0.98],[0.62,-0.82],[0.56,-0.66],[0.61,-0.5],[0.55,-0.34],[0.59,-0.18],[0.53,-0.02],[0.62,0.14],[0.57,0.3],[0.6,0.46],[0.54,0.62],[0.61,0.78],[0.56,0.94],[0.59,1.1],[0.54,1.26],[0.6,1.45],
[0.85,-1.25],[0.79,-1.08],[0.87,-0.92],[0.81,-0.76],[0.86,-0.6],[0.8,-0.44],[0.84,-0.28],[0.78,-0.12],[0.87,0.04],[0.82,0.2],[0.85,0.36],[0.79,0.52],[0.86,0.68],[0.81,0.84],[0.84,1.0],[0.79,1.16],[0.85,1.32],[0.82,1.55],
[1.1,-1.02],[1.04,-0.9],[1.12,-0.74],[1.06,-0.58],[1.11,-0.42],[1.05,-0.26],[1.09,-0.1],[1.03,0.06],[1.12,0.22],[1.07,0.38],[1.1,0.54],[1.04,0.7],[1.11,0.86],[1.06,1.02],[1.09,1.18],[1.04,1.34],[1.1,1.5],
[1.35,-0.88],[1.29,-0.72],[1.37,-0.56],[1.31,-0.4],[1.36,-0.24],[1.3,-0.08],[1.34,0.08],[1.28,0.24],[1.37,0.4],[1.32,0.56],[1.35,0.72],[1.29,0.88],[1.36,1.04],[1.31,1.2],[1.34,1.38],
[1.6,-0.7],[1.54,-0.52],[1.62,-0.36],[1.56,-0.2],[1.61,-0.04],[1.55,0.12],[1.59,0.28],[1.53,0.44],[1.62,0.6],[1.57,0.76],[1.6,0.92],[1.54,1.08],[1.61,1.24],[1.56,1.42],
[1.85,-0.55],[1.79,-0.3],[1.87,-0.1],[1.81,0.1],[1.86,0.3],[1.8,0.5],[1.84,0.7],[1.78,0.9],[1.87,1.1],[1.82,1.3],
[2.12,-0.3],[2.06,-0.05],[2.14,0.18],[2.08,0.4],[2.13,0.62],[2.07,0.82],[2.11,1.02],[2.05,1.2]
];

const pointsD = [
[-2.11,0.35],[-2.11,0.48],[-2.11,0.61],[-2.11,0.74],[-2.11,0.87],[-2.11,1.0],[-2.11,1.13],[-2.11,1.26],[-2.11,1.39],[-2.11,1.52],[-2.11,1.65],[-2.11,1.78],[-2.11,1.91],[-2.11,2.04],[-2.11,2.17],[-2.11,2.3],[-2.11,-0.98],[-2.11,-1.1],[-2.11,-1.22],[-2.11,-1.34],[-2.11,-1.46],[-2.11,-1.54],[-2.1,0.07],[-2.05,-0.26],
[-2.0,1.91],[-1.95,1.6],[-2.02,1.45],[-1.88,1.3],[-1.97,1.15],[-1.85,1.0],[-2.03,0.85],[-1.92,0.7],[-1.82,0.55],[-1.99,0.4],[-1.87,0.25],[-1.9,0.07],[-1.88,-0.26],[-1.83,-0.61],[-2.0,-0.95],[-1.9,-1.1],[-1.96,-1.25],[-1.84,-1.38],[-1.94,-1.5],[-2.05,-1.54],[-1.86,-1.2],
[-1.75,2.04],[-1.72,1.78],[-1.68,1.55],[-1.78,1.4],[-1.62,1.25],[-1.74,1.1],[-1.58,0.95],[-1.7,0.8],[-1.77,0.65],[-1.6,0.5],[-1.67,0.35],[-1.72,-0.09],[-1.6,-0.55],[-1.76,-1.0],[-1.64,-1.15],[-1.71,-1.3],[-1.58,-1.42],[-1.66,-1.55],[-1.79,-1.2],[-1.57,-1.1],
[-1.43,1.68],[-1.5,1.45],[-1.38,1.32],[-1.47,1.18],[-1.33,1.05],[-1.52,0.9],[-1.4,0.75],[-1.31,0.6],[-1.45,0.45],[-1.36,0.3],[-1.5,-0.55],[-1.53,-1.05],[-1.42,-1.2],[-1.35,-1.35],[-1.51,-1.67],[-1.46,-1.5],[-1.32,-1.6],[-1.39,-0.9],[-1.44,0.1],
[-1.28,1.52],[-1.18,1.38],[-1.25,1.22],[-1.1,1.08],[-1.22,0.92],[-1.14,0.78],[-1.27,0.62],[-1.08,0.48],[-1.2,0.32],[-1.12,0.15],[-1.21,-1.81],[-1.25,-1.62],[-1.15,-1.48],[-1.07,-1.35],[-1.24,-1.22],[-1.12,-1.1],[-1.18,-0.75],[-1.06,-0.4],[-1.28,-0.3],
[-1.0,1.6],[-0.9,1.45],[-1.03,1.3],[-0.85,1.15],[-0.96,1.0],[-0.88,0.85],[-1.02,0.7],[-0.82,0.55],[-0.94,0.4],[-0.86,0.22],[-0.99,0.05],[-0.91,-0.15],[-0.83,-0.5],[-1.0,-0.95],[-0.9,-1.1],[-0.81,-1.25],[-0.97,-1.4],[-0.87,-1.55],[-0.83,1.84],[-0.81,1.67],[-0.92,-0.75],
[-0.7,1.72],[-0.6,1.55],[-0.77,1.4],[-0.65,1.25],[-0.73,1.1],[-0.58,0.95],[-0.68,0.8],[-0.78,0.65],[-0.62,0.5],[-0.72,0.35],[-0.57,0.2],[-0.66,0.05],[-0.76,-0.1],[-0.6,-0.3],[-0.7,-0.5],[-0.63,-0.7],[-0.75,-0.9],[-0.58,-1.05],[-0.68,-1.2],[-0.78,-1.35],[-0.6,-1.45],[-0.7,-1.58],
[-0.5,1.61],[-0.4,1.45],[-0.53,1.3],[-0.35,1.15],[-0.46,1.0],[-0.32,0.85],[-0.43,0.7],[-0.52,0.55],[-0.37,0.4],[-0.48,0.25],[-0.33,0.1],[-0.44,-0.06],[-0.54,-0.22],[-0.38,-0.38],[-0.47,-0.54],[-0.34,-0.7],[-0.5,-0.86],[-0.41,-1.02],[-0.31,-1.18],[-0.45,-1.32],[-0.36,-1.45],
[-0.24,2.07],[-0.25,1.55],[-0.15,1.4],[-0.28,1.25],[-0.1,1.1],[-0.21,0.95],[-0.07,0.8],[-0.18,0.65],[-0.27,0.5],[-0.12,0.35],[-0.23,0.2],[-0.08,0.05],[-0.19,-0.11],[-0.29,-0.27],[-0.13,-0.43],[-0.22,-0.59],[-0.09,-0.75],[-0.25,-0.91],[-0.16,-1.07],[-0.06,-1.23],[-0.2,-1.38],
[-0.03,1.68],[0.05,1.5],[0.17,1.35],[0.0,1.2],[0.12,1.05],[-0.02,0.9],[0.15,0.75],[0.06,0.6],[0.19,0.45],[0.02,0.3],[0.1,0.15],[0.18,0.0],[0.01,-0.16],[0.13,-0.32],[-0.04,-0.48],[0.08,-0.64],[0.16,-0.8],[0.0,-0.96],[0.11,-1.12],[0.0,-1.44],[0.19,-1.28],
[0.35,1.69],[0.25,1.5],[0.4,1.35],[0.22,1.2],[0.33,1.05],[0.43,0.9],[0.27,0.75],[0.38,0.6],[0.21,0.45],[0.31,0.3],[0.44,0.15],[0.26,0.0],[0.36,-0.16],[0.23,-0.32],[0.41,-0.48],[0.29,-0.64],[0.39,-0.8],[0.24,-0.96],[0.34,-1.12],[0.42,-1.28],[0.28,-1.38],
[0.48,1.55],[0.6,1.4],[0.5,1.25],[0.65,1.1],[0.55,0.95],[0.68,0.8],[0.47,0.65],[0.58,0.5],[0.69,0.35],[0.52,0.2],[0.63,0.05],[0.46,-0.11],[0.57,-0.27],[0.67,-0.43],[0.5,-0.59],[0.61,-0.75],[0.7,-0.91],[0.54,-1.07],[0.64,-1.23],[0.49,-1.36],
[0.76,1.67],[0.76,1.57],[0.8,1.4],[0.72,1.25],[0.88,1.1],[0.75,0.95],[0.92,0.8],[0.83,0.65],[0.71,0.5],[0.86,0.35],[0.78,0.2],[0.94,0.05],[0.74,-0.11],[0.85,-0.27],[0.91,-0.43],[0.77,-0.59],[0.89,-0.75],[0.73,-0.91],[0.9,-1.17],[0.76,-1.35],[0.82,-1.05],
[1.18,1.69],[1.18,1.47],[1.0,1.3],[1.12,1.15],[0.97,1.0],[1.08,0.85],[1.19,0.7],[1.02,0.55],[1.14,0.4],[0.98,0.25],[1.1,0.1],[1.2,-0.06],[1.04,-0.22],[1.15,-0.38],[0.99,-0.54],[1.11,-0.7],[1.05,-0.86],[0.98,-1.05],[1.13,-1.0],
[1.3,1.3],[1.24,1.15],[1.38,1.0],[1.27,0.85],[1.42,0.7],[1.22,0.55],[1.35,0.4],[1.44,0.25],[1.26,0.1],[1.39,-0.06],[1.23,-0.22],[1.33,-0.38],[1.43,-0.54],[1.29,-0.7],[1.38,-0.8],[1.25,-0.9],
[1.49,1.45],[1.5,1.2],[1.6,1.05],[1.53,0.9],[1.66,0.75],[1.47,0.6],[1.58,0.45],[1.68,0.3],[1.52,0.15],[1.63,0.0],[1.48,-0.16],[1.59,-0.32],[1.69,-0.48],[1.55,-0.64],[1.7,-0.84],[1.62,-0.75],
[1.76,1.42],[1.89,1.42],[1.8,1.2],[1.73,1.0],[1.88,0.85],[1.78,0.7],[1.92,0.55],[1.74,0.4],[1.85,0.25],[1.94,0.1],[1.77,-0.05],[1.9,-0.2],[1.82,-0.35],[1.75,-0.55],[1.85,-0.84],[1.9,-0.94],[1.95,-0.83],[1.88,-0.65],
[2.03,1.27],[2.08,1.15],[2.22,1.1],[2.0,0.9],[2.12,0.75],[2.2,0.6],[1.98,0.45],[2.1,0.3],[2.24,0.15],[2.05,0.0],[2.17,-0.15],[2.2,-0.36],[2.02,-0.55],[2.14,-0.82],[2.1,-0.5],
[2.43,0.99],[2.73,0.76],[2.98,0.43],[2.5,0.43],[2.55,0.43],[2.47,0.05],[2.35,-0.15],[2.3,0.6],[2.38,0.3],[2.62,0.6],[2.3,0.85]
];
const coreD = [
[-2.06,0.42],[-2.04,0.58],[-2.07,0.74],[-2.03,0.9],[-2.06,1.06],[-2.04,1.22],[-2.07,1.38],[-2.03,1.54],[-2.06,1.7],[-2.05,-1.05],[-2.03,-1.2],[-2.07,-1.35],[-2.04,-1.48],
[-1.8,0.45],[-1.84,0.6],[-1.78,0.76],[-1.82,0.92],[-1.79,1.08],[-1.83,1.24],[-1.8,1.4],[-1.84,1.56],[-1.79,1.72],[-1.82,-1.05],[-1.78,-1.22],[-1.84,-1.35],[-1.8,-1.5],[-1.77,-0.3],
[-1.55,0.38],[-1.59,0.54],[-1.53,0.7],[-1.57,0.86],[-1.54,1.02],[-1.58,1.18],[-1.55,1.34],[-1.59,1.52],[-1.56,-1.15],[-1.52,-1.3],[-1.58,-1.45],[-1.54,-1.6],[-1.6,-0.95],[-1.55,-0.2],
[-1.3,0.4],[-1.34,0.56],[-1.28,0.72],[-1.32,0.88],[-1.29,1.04],[-1.33,1.2],[-1.3,1.36],[-1.34,1.52],[-1.31,-1.1],[-1.27,-1.25],[-1.33,-1.4],[-1.29,-1.55],[-1.33,-0.95],[-1.3,0.2],[-1.27,-0.6],
[-1.05,0.3],[-1.09,0.46],[-1.03,0.62],[-1.07,0.78],[-1.04,0.94],[-1.08,1.1],[-1.05,1.26],[-1.09,1.42],[-1.06,-1.18],[-1.02,-1.32],[-1.08,-1.47],[-1.04,-1.62],[-1.08,-1.02],[-1.03,-0.2],[-1.06,0.1],[-1.0,-0.6],
[-0.8,0.15],[-0.84,0.3],[-0.78,0.46],[-0.82,0.62],[-0.79,0.78],[-0.83,0.94],[-0.8,1.1],[-0.84,1.26],[-0.79,1.42],[-0.81,1.58],[-0.8,-1.42],[-0.84,-1.3],[-0.78,-1.15],[-0.82,-1.0],[-0.79,-0.85],[-0.83,-0.65],[-0.8,-0.35],[-0.84,-0.05],
[-0.55,-1.5],[-0.59,-1.35],[-0.53,-1.2],[-0.57,-1.04],[-0.54,-0.88],[-0.58,-0.72],[-0.55,-0.56],[-0.59,-0.4],[-0.56,-0.24],[-0.52,-0.08],[-0.58,0.08],[-0.54,0.24],[-0.57,0.4],[-0.53,0.56],[-0.58,0.72],[-0.55,0.88],[-0.59,1.04],[-0.54,1.2],[-0.57,1.38],[-0.55,1.55],
[-0.3,-1.4],[-0.34,-1.25],[-0.28,-1.1],[-0.32,-0.94],[-0.29,-0.78],[-0.33,-0.62],[-0.3,-0.46],[-0.34,-0.3],[-0.31,-0.14],[-0.27,0.02],[-0.33,0.18],[-0.29,0.34],[-0.32,0.5],[-0.28,0.66],[-0.33,0.82],[-0.3,0.98],[-0.34,1.14],[-0.29,1.3],[-0.32,1.48],
[-0.05,-1.35],[-0.09,-1.18],[-0.03,-1.02],[-0.07,-0.86],[-0.04,-0.7],[-0.08,-0.54],[-0.05,-0.38],[-0.09,-0.22],[-0.06,-0.06],[-0.02,0.1],[-0.08,0.26],[-0.04,0.42],[-0.07,0.58],[-0.03,0.74],[-0.08,0.9],[-0.05,1.06],[-0.09,1.22],[-0.04,1.38],[-0.07,1.55],
[0.2,-1.32],[0.16,-1.18],[0.22,-1.02],[0.18,-0.86],[0.21,-0.7],[0.17,-0.54],[0.2,-0.38],[0.16,-0.22],[0.19,-0.06],[0.23,0.1],[0.17,0.26],[0.21,0.42],[0.18,0.58],[0.22,0.74],[0.17,0.9],[0.2,1.06],[0.16,1.22],[0.21,1.4],[0.18,1.58],
[0.45,-1.32],[0.41,-1.15],[0.47,-0.99],[0.43,-0.83],[0.46,-0.67],[0.42,-0.51],[0.45,-0.35],[0.41,-0.19],[0.44,-0.03],[0.48,0.13],[0.42,0.29],[0.46,0.45],[0.43,0.61],[0.47,0.77],[0.42,0.93],[0.45,1.09],[0.41,1.25],[0.46,1.42],
[0.7,-1.28],[0.66,-1.12],[0.72,-0.96],[0.68,-0.8],[0.71,-0.64],[0.67,-0.48],[0.7,-0.32],[0.66,-0.16],[0.69,0.0],[0.73,0.16],[0.67,0.32],[0.71,0.48],[0.68,0.64],[0.72,0.8],[0.67,0.96],[0.7,1.12],[0.66,1.28],[0.71,1.46],
[0.95,-1.15],[0.91,-0.98],[0.97,-0.82],[0.93,-0.66],[0.96,-0.5],[0.92,-0.34],[0.95,-0.18],[0.91,-0.02],[0.94,0.14],[0.98,0.3],[0.92,0.46],[0.96,0.62],[0.93,0.78],[0.97,0.94],[0.92,1.1],[0.95,1.26],[0.91,1.42],
[1.22,-0.95],[1.18,-0.8],[1.24,-0.64],[1.2,-0.48],[1.23,-0.32],[1.19,-0.16],[1.22,0.0],[1.18,0.16],[1.21,0.32],[1.25,0.48],[1.19,0.64],[1.23,0.8],[1.2,0.96],[1.24,1.12],[1.19,1.28],
[1.45,-0.85],[1.41,-0.68],[1.47,-0.52],[1.43,-0.36],[1.46,-0.2],[1.42,-0.04],[1.45,0.12],[1.41,0.28],[1.44,0.44],[1.48,0.6],[1.42,0.76],[1.46,0.92],[1.43,1.08],[1.47,1.24],
[1.72,-0.7],[1.68,-0.55],[1.74,-0.38],[1.7,-0.22],[1.73,-0.06],[1.69,0.1],[1.72,0.26],[1.68,0.42],[1.71,0.58],[1.75,0.74],[1.69,0.9],[1.73,1.06],[1.7,1.25],
[2.0,-0.65],[1.96,-0.4],[2.02,-0.2],[1.98,0.0],[2.01,0.2],[1.97,0.4],[2.0,0.6],[1.96,0.8],[2.03,1.0],[1.99,1.2],
[2.27,-0.2],[2.23,0.05],[2.28,0.3],[2.24,0.5],[2.27,0.7],[2.22,0.9]
];

const pointsE = [
[-2.1,-1.36],[-2.1,-1.22],[-2.1,-1.1],[-2.1,-0.98],[-2.1,-0.3],[-2.1,-0.15],[-2.1,0.0],[-2.1,0.15],[-2.1,0.3],[-2.1,0.45],[-2.1,0.6],[-2.1,0.75],[-2.1,0.9],[-2.1,1.05],[-2.1,1.2],[-2.1,1.35],[-2.1,1.5],[-2.1,1.65],[-2.1,2.45],[-2.1,2.63],[-2.1,2.82],[-2.1,2.96],[-2.1,3.02],[-2.1,3.08],[-2.1,3.58],[-2.02,2.69],[-2.06,-1.36],[-2.05,-0.7],[-2.0,-0.05],
[-1.97,-1.3],[-1.85,-1.2],[-1.93,-1.05],[-1.8,-0.88],[-1.9,-0.55],[-1.78,-0.2],[-1.95,0.05],[-1.83,0.2],[-1.98,0.35],[-1.87,0.5],[-1.77,0.65],[-1.92,0.8],[-1.81,0.95],[-1.96,1.1],[-1.86,1.25],[-1.79,1.4],[-1.9,1.55],[-1.75,2.89],[-1.71,2.54],[-1.71,2.49],
[-1.72,-1.38],[-1.6,-1.28],[-1.68,-1.15],[-1.55,-1.02],[-1.65,-0.7],[-1.52,-0.4],[-1.7,-0.15],[-1.58,0.02],[-1.66,0.18],[-1.53,0.34],[-1.62,0.5],[-1.74,0.66],[-1.57,0.82],[-1.67,0.98],[-1.54,1.14],[-1.63,1.3],[-1.51,1.46],[-1.55,1.91],[-1.6,1.7],
[-1.45,1.86],[-1.47,-1.4],[-1.36,-1.25],[-1.28,-1.38],[-1.42,-1.1],[-1.3,-0.95],[-1.38,-0.6],[-1.46,-0.25],[-1.32,-0.05],[-1.4,0.12],[-1.27,0.28],[-1.44,0.44],[-1.34,0.6],[-1.26,0.76],[-1.41,0.92],[-1.31,1.08],[-1.43,1.24],[-1.29,1.4],[-1.37,1.55],
[-1.22,-1.61],[-1.22,-1.5],[-1.15,-1.35],[-1.05,-1.25],[-1.2,-1.1],[-1.1,-0.95],[-1.02,-0.75],[-1.17,-0.45],[-1.08,-0.2],[-1.24,0.0],[-1.13,0.16],[-1.03,0.32],[-1.19,0.48],[-1.09,0.64],[-1.01,0.8],[-1.16,0.96],[-1.06,1.12],[-1.21,1.28],[-1.11,1.45],[-1.17,1.97],
[-0.97,-1.4],[-0.88,-1.3],[-0.8,-1.42],[-0.94,-1.15],[-0.84,-1.0],[-0.77,-0.82],[-0.92,-0.62],[-0.82,-0.42],[-0.99,-0.22],[-0.86,-0.04],[-0.78,0.12],[-0.95,0.28],[-0.85,0.44],[-0.76,0.6],[-0.93,0.76],[-0.83,0.92],[-0.98,1.08],[-0.87,1.24],[-0.79,1.42],[-0.82,2.8],[-0.82,2.56],[-0.94,2.16],[-0.83,1.99],
[-0.72,-1.35],[-0.62,-1.42],[-0.55,-1.28],[-0.69,-1.12],[-0.59,-0.96],[-0.5,-0.8],[-0.66,-0.64],[-0.56,-0.48],[-0.73,-0.32],[-0.63,-0.16],[-0.53,0.0],[-0.7,0.16],[-0.6,0.32],[-0.51,0.48],[-0.67,0.64],[-0.57,0.8],[-0.74,0.96],[-0.64,1.12],[-0.54,1.3],[-0.69,2.45],[-0.6,1.6],
[-0.47,-1.38],[-0.37,-1.3],[-0.3,-1.42],[-0.44,-1.15],[-0.34,-1.0],[-0.26,-0.84],[-0.41,-0.68],[-0.31,-0.52],[-0.48,-0.36],[-0.38,-0.2],[-0.28,-0.04],[-0.45,0.12],[-0.35,0.28],[-0.27,0.44],[-0.42,0.6],[-0.32,0.76],[-0.49,0.92],[-0.39,1.08],[-0.29,1.26],[-0.4,1.5],[-0.3,1.7],
[-0.25,3.3],[-0.22,-1.35],[-0.12,-1.28],[-0.02,-1.45],[-0.19,-1.12],[-0.09,-0.96],[-0.01,-0.8],[-0.16,-0.64],[-0.06,-0.48],[-0.23,-0.32],[-0.13,-0.16],[-0.03,0.0],[-0.2,0.16],[-0.1,0.32],[-0.02,0.48],[-0.17,0.64],[-0.07,0.8],[-0.24,0.96],[-0.14,1.12],[-0.04,1.3],[-0.1,2.1],[-0.02,2.2],[-0.05,2.81],[-0.08,1.55],
[0.03,-1.3],[0.13,-1.38],[0.22,-1.25],[0.06,-1.1],[0.16,-0.94],[0.24,-0.78],[0.09,-0.62],[0.19,-0.46],[0.02,-0.3],[0.12,-0.14],[0.21,0.02],[0.05,0.18],[0.15,0.34],[0.23,0.5],[0.08,0.66],[0.18,0.82],[0.01,0.98],[0.11,1.14],[0.2,1.32],[0.1,1.6],
[0.28,-1.35],[0.38,-1.28],[0.47,-1.4],[0.31,-1.12],[0.41,-0.96],[0.49,-0.8],[0.34,-0.64],[0.44,-0.48],[0.27,-0.32],[0.37,-0.16],[0.46,0.0],[0.3,0.16],[0.4,0.32],[0.48,0.48],[0.33,0.64],[0.43,0.8],[0.26,0.96],[0.36,1.12],[0.45,1.3],[0.32,2.41],[0.4,1.65],
[0.53,-1.3],[0.63,-1.4],[0.72,-1.25],[0.56,-1.1],[0.66,-0.94],[0.74,-0.78],[0.59,-0.62],[0.69,-0.46],[0.52,-0.3],[0.62,-0.14],[0.71,0.02],[0.55,0.18],[0.65,0.34],[0.73,0.5],[0.58,0.66],[0.68,0.82],[0.51,0.98],[0.61,1.14],[0.7,1.32],[0.64,2.15],[0.6,1.55],
[0.75,-1.43],[0.78,-1.28],[0.88,-1.35],[0.97,-1.2],[0.81,-1.05],[0.91,-0.9],[0.99,-0.74],[0.84,-0.58],[0.94,-0.42],[0.77,-0.26],[0.87,-0.1],[0.96,0.06],[0.8,0.22],[0.9,0.38],[0.98,0.54],[0.83,0.7],[0.93,0.86],[0.76,1.02],[0.86,1.18],[0.95,1.36],[0.76,2.29],[0.85,1.6],
[1.2,-1.12],[1.03,-1.22],[1.13,-0.98],[1.22,-0.82],[1.06,-0.66],[1.16,-0.5],[1.24,-0.34],[1.09,-0.18],[1.19,-0.02],[1.02,0.14],[1.12,0.3],[1.21,0.46],[1.05,0.62],[1.15,0.78],[1.23,0.94],[1.08,1.1],[1.18,1.28],[1.16,2.82],[1.17,2.56],[1.1,1.55],
[1.39,-1.0],[1.3,-0.85],[1.42,-0.7],[1.27,-0.54],[1.36,-0.38],[1.48,-0.22],[1.32,-0.06],[1.44,0.1],[1.28,0.26],[1.38,0.42],[1.47,0.58],[1.31,0.74],[1.41,0.9],[1.29,1.08],[1.45,1.25],[1.48,2.54],[1.42,2.2],[1.35,2.1],[1.35,1.45],
[1.55,-1.17],[1.6,-0.9],[1.7,-0.72],[1.53,-0.55],[1.65,-0.38],[1.73,-0.2],[1.57,-0.02],[1.68,0.16],[1.52,0.34],[1.63,0.52],[1.74,0.7],[1.58,0.88],[1.69,1.06],[1.55,1.25],[1.75,2.43],[1.67,2.23],[1.67,2.08],[1.62,1.5],
[1.79,-1.21],[1.88,-1.08],[1.82,-0.8],[1.93,-0.6],[1.78,-0.4],[1.9,-0.2],[1.98,0.0],[1.8,0.2],[1.95,0.4],[1.85,0.6],[1.97,0.8],[1.83,1.0],[1.92,1.2],[1.87,2.0],[1.8,1.45],
[2.07,-1.19],[2.24,-0.79],[2.31,-0.5],[2.1,-0.3],[2.2,-0.05],[2.05,0.15],[2.15,0.35],[2.27,0.55],[2.24,0.73],[2.1,0.9],[2.2,1.1],[2.07,2.15],[2.05,1.4],[2.15,-0.6],
[2.37,0.8],[2.46,0.47],[2.48,1.06],[2.53,1.14],[2.63,-0.77],[2.73,1.64],[2.97,1.11],[2.4,0.2],[2.5,0.7],[2.35,-0.2]
];
const coreE = [
[-2.06,0.08],[-2.04,0.22],[-2.07,0.38],[-2.03,0.52],[-2.06,0.68],[-2.04,0.82],[-2.07,0.98],[-2.03,1.12],[-2.06,1.28],[-2.04,1.42],[-2.06,-1.05],[-2.04,-1.2],
[-1.82,0.12],[-1.78,0.28],[-1.84,0.42],[-1.8,0.58],[-1.83,0.72],[-1.79,0.88],[-1.82,1.02],[-1.78,1.18],[-1.84,1.32],[-1.8,1.48],[-1.82,-1.1],[-1.78,-1.25],[-1.84,-1.38],[-1.8,-0.35],
[-1.56,0.1],[-1.52,0.26],[-1.58,0.42],[-1.54,0.58],[-1.57,0.74],[-1.53,0.9],[-1.56,1.06],[-1.52,1.22],[-1.58,1.38],[-1.56,-1.1],[-1.52,-1.25],[-1.58,-1.35],[-1.54,-0.82],[-1.58,-0.3],
[-1.31,0.04],[-1.27,0.2],[-1.33,0.36],[-1.29,0.52],[-1.32,0.68],[-1.28,0.84],[-1.31,1.0],[-1.27,1.16],[-1.33,1.32],[-1.3,1.48],[-1.31,-1.18],[-1.27,-1.32],[-1.33,-1.05],[-1.29,-0.75],[-1.32,-0.4],[-1.28,-0.2],
[-1.06,-0.1],[-1.02,0.06],[-1.08,0.22],[-1.04,0.38],[-1.07,0.54],[-1.03,0.7],[-1.06,0.86],[-1.02,1.02],[-1.08,1.18],[-1.04,1.34],[-1.06,-1.4],[-1.02,-1.15],[-1.08,-1.02],[-1.04,-0.6],[-1.07,-0.35],
[-0.81,-1.35],[-0.77,-1.2],[-0.83,-1.06],[-0.79,-0.9],[-0.82,-0.72],[-0.78,-0.52],[-0.81,-0.32],[-0.77,-0.14],[-0.83,0.04],[-0.79,0.2],[-0.82,0.36],[-0.78,0.52],[-0.81,0.68],[-0.77,0.84],[-0.83,1.0],[-0.79,1.16],[-0.82,1.32],[-0.8,1.5],
[-0.56,-1.4],[-0.52,-1.2],[-0.58,-1.04],[-0.54,-0.88],[-0.57,-0.72],[-0.53,-0.56],[-0.56,-0.4],[-0.52,-0.24],[-0.58,-0.08],[-0.54,0.08],[-0.57,0.24],[-0.53,0.4],[-0.56,0.56],[-0.52,0.72],[-0.58,0.88],[-0.54,1.04],[-0.57,1.2],[-0.53,1.38],
[-0.31,-1.35],[-0.27,-1.22],[-0.33,-1.06],[-0.29,-0.9],[-0.32,-0.74],[-0.28,-0.58],[-0.31,-0.42],[-0.27,-0.26],[-0.33,-0.1],[-0.29,0.06],[-0.32,0.22],[-0.28,0.38],[-0.31,0.54],[-0.27,0.7],[-0.33,0.86],[-0.29,1.02],[-0.32,1.18],[-0.28,1.36],
[-0.06,-1.38],[-0.02,-1.2],[-0.08,-1.04],[-0.04,-0.88],[-0.07,-0.72],[-0.03,-0.56],[-0.06,-0.4],[-0.02,-0.24],[-0.08,-0.08],[-0.04,0.08],[-0.07,0.24],[-0.03,0.4],[-0.06,0.56],[-0.02,0.72],[-0.08,0.88],[-0.04,1.04],[-0.07,1.2],[-0.03,1.4],
[0.19,-1.32],[0.23,-1.18],[0.17,-1.02],[0.21,-0.86],[0.18,-0.7],[0.22,-0.54],[0.19,-0.38],[0.23,-0.22],[0.17,-0.06],[0.21,0.1],[0.18,0.26],[0.22,0.42],[0.19,0.58],[0.23,0.74],[0.17,0.9],[0.21,1.06],[0.18,1.22],[0.22,1.42],
[0.44,-1.32],[0.48,-1.2],[0.42,-1.04],[0.46,-0.88],[0.43,-0.72],[0.47,-0.56],[0.44,-0.4],[0.48,-0.24],[0.42,-0.08],[0.46,0.08],[0.43,0.24],[0.47,0.4],[0.44,0.56],[0.48,0.72],[0.42,0.88],[0.46,1.04],[0.43,1.2],[0.47,1.4],
[0.69,-1.35],[0.73,-1.18],[0.67,-1.02],[0.71,-0.86],[0.68,-0.7],[0.72,-0.54],[0.69,-0.38],[0.73,-0.22],[0.67,-0.06],[0.71,0.1],[0.68,0.26],[0.72,0.42],[0.69,0.58],[0.73,0.74],[0.67,0.9],[0.71,1.06],[0.68,1.22],[0.72,1.4],
[0.94,-1.3],[0.98,-1.12],[0.92,-0.98],[0.96,-0.82],[0.93,-0.66],[0.97,-0.5],[0.94,-0.34],[0.98,-0.18],[0.92,-0.02],[0.96,0.14],[0.93,0.3],[0.97,0.46],[0.94,0.62],[0.98,0.78],[0.92,0.94],[0.96,1.1],[0.93,1.26],[0.97,1.45],
[1.19,-1.05],[1.23,-0.9],[1.17,-0.74],[1.21,-0.58],[1.18,-0.42],[1.22,-0.26],[1.19,-0.1],[1.23,0.06],[1.17,0.22],[1.21,0.38],[1.18,0.54],[1.22,0.7],[1.19,0.86],[1.23,1.02],[1.17,1.18],[1.21,1.36],
[1.44,-0.92],[1.48,-0.78],[1.42,-0.62],[1.46,-0.46],[1.43,-0.3],[1.47,-0.14],[1.44,0.02],[1.48,0.18],[1.42,0.34],[1.46,0.5],[1.43,0.66],[1.47,0.82],[1.44,0.98],[1.48,1.14],[1.42,1.32],
[1.69,-0.82],[1.73,-0.64],[1.67,-0.46],[1.71,-0.28],[1.68,-0.1],[1.72,0.08],[1.69,0.26],[1.73,0.44],[1.67,0.62],[1.71,0.8],[1.68,0.98],[1.72,1.16],[1.69,1.35],
[1.94,-0.7],[1.98,-0.5],[1.92,-0.3],[1.96,-0.1],[1.93,0.1],[1.97,0.3],[1.94,0.5],[1.98,0.7],[1.92,0.9],[1.96,1.1],[1.93,1.3],
[2.19,-0.4],[2.23,-0.2],[2.17,0.05],[2.21,0.25],[2.18,0.45],[2.22,0.65],[2.19,0.85],[2.23,1.05]
];

const pointsF = [
[-2.11,-1.45],[-2.11,-1.33],[-2.11,-1.21],[-2.11,-1.09],[-2.11,-0.97],[-2.11,-0.5],[-2.11,-0.35],[-2.11,-0.2],[-2.11,-0.05],[-2.11,0.1],[-2.11,0.25],[-2.11,0.4],[-2.11,0.55],[-2.11,0.7],[-2.11,0.85],[-2.11,1.0],[-2.11,1.15],[-2.11,1.3],[-2.11,1.45],[-2.11,1.6],[-2.11,2.5],[-2.11,2.67],[-2.11,2.89],[-2.11,3.04],[-2.11,3.12],[-2.11,3.17],[-2.11,4.45],[-2.02,2.78],[-1.97,-1.46],[-2.05,-0.8],[-2.0,-1.2],
[-1.93,-1.4],[-1.82,-1.3],[-1.9,-1.15],[-1.78,-1.0],[-1.88,-0.7],[-1.8,-0.4],[-1.95,-0.2],[-1.84,-0.02],[-1.91,0.15],[-1.79,0.3],[-1.96,0.45],[-1.86,0.6],[-1.76,0.75],[-1.92,0.9],[-1.81,1.05],[-1.97,1.2],[-1.85,1.35],[-1.76,2.96],[-1.73,2.61],[-1.7,2.55],[-1.8,1.6],
[-1.72,-1.45],[-1.6,-1.35],[-1.68,-1.2],[-1.55,-1.08],[-1.65,-0.85],[-1.52,-0.55],[-1.7,-0.28],[-1.58,-0.1],[-1.66,0.08],[-1.53,0.24],[-1.62,0.4],[-1.74,0.56],[-1.57,0.72],[-1.67,0.88],[-1.54,1.04],[-1.63,1.2],[-1.51,1.36],[-1.56,2.25],[-1.6,1.7],
[-1.44,2.1],[-1.47,-1.42],[-1.36,-1.3],[-1.28,-1.45],[-1.42,-1.15],[-1.3,-1.0],[-1.38,-0.65],[-1.46,-0.3],[-1.32,-0.1],[-1.4,0.08],[-1.27,0.24],[-1.44,0.4],[-1.34,0.56],[-1.26,0.72],[-1.41,0.88],[-1.31,1.04],[-1.43,1.2],[-1.29,1.38],[-1.35,1.6],
[-1.22,-1.53],[-1.18,-1.4],[-1.1,-1.28],[-1.03,-1.42],[-1.2,-1.12],[-1.08,-0.98],[-1.14,-0.7],[-1.02,-0.45],[-1.23,-0.22],[-1.12,-0.05],[-1.04,0.12],[-1.19,0.28],[-1.09,0.44],[-1.01,0.6],[-1.16,0.76],[-1.06,0.92],[-1.21,1.08],[-1.11,1.25],[-1.17,2.26],[-1.05,1.5],
[-0.94,2.3],[-0.82,2.2],[-0.82,3.05],[-0.83,2.64],[-0.97,-1.35],[-0.88,-1.25],[-0.8,-1.4],[-0.94,-1.12],[-0.84,-0.98],[-0.77,-0.8],[-0.92,-0.6],[-0.82,-0.4],[-0.99,-0.2],[-0.86,-0.04],[-0.78,0.12],[-0.95,0.28],[-0.85,0.44],[-0.76,0.6],[-0.93,0.76],[-0.83,0.92],[-0.98,1.08],[-0.87,1.24],[-0.79,1.45],
[-0.7,2.52],[-0.72,-1.32],[-0.62,-1.38],[-0.55,-1.25],[-0.69,-1.1],[-0.59,-0.95],[-0.5,-0.8],[-0.66,-0.64],[-0.56,-0.48],[-0.73,-0.32],[-0.63,-0.16],[-0.53,0.0],[-0.7,0.16],[-0.6,0.32],[-0.51,0.48],[-0.67,0.64],[-0.57,0.8],[-0.74,0.96],[-0.64,1.12],[-0.54,1.3],[-0.6,1.65],
[-0.47,-1.3],[-0.37,-1.22],[-0.3,-1.35],[-0.44,-1.1],[-0.34,-0.95],[-0.26,-0.8],[-0.41,-0.64],[-0.31,-0.48],[-0.48,-0.32],[-0.38,-0.16],[-0.28,0.0],[-0.45,0.16],[-0.35,0.32],[-0.27,0.48],[-0.42,0.64],[-0.32,0.8],[-0.49,0.96],[-0.39,1.12],[-0.29,1.3],[-0.4,1.55],[-0.25,4.11],
[-0.22,-1.28],[-0.12,-1.2],[0.0,-1.36],[-0.19,-1.05],[-0.09,-0.9],[-0.01,-0.75],[-0.16,-0.6],[-0.06,-0.44],[-0.23,-0.28],[-0.13,-0.12],[-0.03,0.04],[-0.2,0.2],[-0.1,0.36],[-0.02,0.52],[-0.17,0.68],[-0.07,0.84],[-0.24,1.0],[-0.14,1.16],[-0.04,1.35],[-0.2,2.14],[-0.06,3.06],[-0.05,2.48],[-0.1,1.7],
[0.03,-1.25],[0.13,-1.32],[0.22,-1.2],[0.06,-1.05],[0.16,-0.9],[0.24,-0.74],[0.09,-0.58],[0.19,-0.42],[0.02,-0.26],[0.12,-0.1],[0.21,0.06],[0.05,0.22],[0.15,0.38],[0.23,0.54],[0.08,0.7],[0.18,0.86],[0.01,1.02],[0.11,1.18],[0.2,1.4],[0.1,1.75],
[0.28,-1.3],[0.38,-1.22],[0.47,-1.32],[0.31,-1.08],[0.41,-0.92],[0.49,-0.76],[0.34,-0.6],[0.44,-0.44],[0.27,-0.28],[0.37,-0.12],[0.46,0.04],[0.3,0.2],[0.4,0.36],[0.48,0.52],[0.33,0.68],[0.43,0.84],[0.26,1.0],[0.36,1.16],[0.45,1.35],[0.33,2.6],[0.4,1.65],
[0.53,-1.25],[0.63,-1.3],[0.72,-1.2],[0.56,-1.05],[0.66,-0.9],[0.74,-0.74],[0.59,-0.58],[0.69,-0.42],[0.52,-0.26],[0.62,-0.1],[0.71,0.06],[0.55,0.22],[0.65,0.38],[0.73,0.54],[0.58,0.7],[0.68,0.86],[0.51,1.02],[0.61,1.18],[0.7,1.38],[0.6,1.7],
[0.77,-1.32],[0.78,2.75],[0.78,2.6],[0.88,2.37],[0.8,-1.2],[0.9,-1.25],[0.97,-1.1],[0.83,-0.95],[0.93,-0.8],[0.99,-0.64],[0.86,-0.48],[0.96,-0.32],[0.79,-0.16],[0.89,0.0],[0.98,0.16],[0.82,0.32],[0.92,0.48],[0.76,0.64],[0.87,0.8],[0.95,0.96],[0.81,1.12],[0.91,1.3],[0.85,1.6],
[1.23,-0.83],[1.18,3.04],[1.17,2.74],[1.03,-1.15],[1.13,-1.0],[1.07,-0.66],[1.2,-0.5],[1.1,-0.34],[1.24,-0.18],[1.05,-0.02],[1.15,0.14],[1.02,0.3],[1.21,0.46],[1.09,0.62],[1.19,0.78],[1.04,0.94],[1.14,1.1],[1.22,1.3],[1.12,1.55],[1.2,1.9],
[1.3,-0.83],[1.5,-0.7],[1.49,2.72],[1.36,-0.55],[1.45,-0.38],[1.28,-0.22],[1.4,-0.06],[1.48,0.1],[1.32,0.26],[1.43,0.42],[1.27,0.58],[1.38,0.74],[1.47,0.9],[1.33,1.06],[1.42,1.22],[1.3,1.45],[1.4,1.8],
[1.59,-0.86],[1.55,-0.5],[1.66,-0.32],[1.73,-0.14],[1.57,0.04],[1.69,0.22],[1.53,0.4],[1.64,0.58],[1.74,0.76],[1.58,0.94],[1.7,1.12],[1.56,1.3],[1.76,2.59],[1.7,2.37],[1.7,2.25],[1.65,1.55],
[1.8,-0.79],[1.9,-0.98],[1.97,-0.82],[1.85,-0.55],[1.93,-0.3],[1.78,-0.1],[1.9,0.1],[1.98,0.3],[1.82,0.5],[1.95,0.7],[1.84,0.9],[1.96,1.1],[1.89,2.18],[1.8,1.35],
[2.05,-0.37],[2.17,-0.91],[2.27,-0.18],[2.12,0.0],[2.22,0.25],[2.05,0.45],[2.15,0.65],[2.28,0.85],[2.08,1.05],[2.2,1.25],[2.11,2.2],[2.05,2.0],[2.25,1.8],[2.1,-0.6],
[2.34,0.77],[2.42,0.1],[2.43,0.82],[2.46,1.7],[2.54,1.01],[2.6,0.89],[2.75,1.47],[3.0,0.88],[2.4,0.4],[2.5,1.2],[2.35,-0.3]
];
const coreF = [
[-2.06,-0.42],[-2.04,-0.28],[-2.07,-0.12],[-2.03,0.02],[-2.06,0.18],[-2.04,0.32],[-2.07,0.48],[-2.03,0.62],[-2.06,0.78],[-2.04,0.92],[-2.07,1.08],[-2.03,1.22],[-2.06,1.38],[-2.04,-1.02],[-2.06,-1.28],[-2.03,-1.4],
[-1.82,-0.3],[-1.78,-0.12],[-1.84,0.06],[-1.8,0.22],[-1.83,0.38],[-1.79,0.52],[-1.82,0.68],[-1.78,0.82],[-1.84,0.98],[-1.8,1.12],[-1.83,1.28],[-1.82,-1.08],[-1.78,-1.22],[-1.84,-1.35],[-1.8,-1.48],
[-1.56,-0.2],[-1.52,-0.02],[-1.58,0.16],[-1.54,0.32],[-1.57,0.48],[-1.53,0.64],[-1.56,0.8],[-1.52,0.96],[-1.58,1.12],[-1.54,1.28],[-1.56,-1.15],[-1.52,-1.28],[-1.58,-1.42],[-1.54,-0.95],[-1.58,-0.65],
[-1.31,-0.2],[-1.27,0.0],[-1.33,0.16],[-1.29,0.32],[-1.32,0.48],[-1.28,0.64],[-1.31,0.8],[-1.27,0.96],[-1.33,1.12],[-1.29,1.28],[-1.31,-1.22],[-1.27,-1.36],[-1.33,-1.08],[-1.29,-0.85],[-1.32,-0.45],
[-1.06,-0.3],[-1.02,-0.12],[-1.08,0.04],[-1.04,0.2],[-1.07,0.36],[-1.03,0.52],[-1.06,0.68],[-1.02,0.84],[-1.08,1.0],[-1.04,1.16],[-1.06,1.34],[-1.02,-1.2],[-1.08,-1.35],[-1.04,-1.05],[-1.07,-0.85],[-1.03,-0.6],
[-0.81,-1.3],[-0.77,-1.15],[-0.83,-1.04],[-0.79,-0.88],[-0.82,-0.7],[-0.78,-0.5],[-0.81,-0.3],[-0.77,-0.12],[-0.83,0.04],[-0.79,0.2],[-0.82,0.36],[-0.78,0.52],[-0.81,0.68],[-0.77,0.84],[-0.83,1.0],[-0.79,1.16],[-0.82,1.32],
[-0.56,-1.35],[-0.52,-1.18],[-0.58,-1.02],[-0.54,-0.88],[-0.57,-0.72],[-0.53,-0.56],[-0.56,-0.4],[-0.52,-0.24],[-0.58,-0.08],[-0.54,0.08],[-0.57,0.24],[-0.53,0.4],[-0.56,0.56],[-0.52,0.72],[-0.58,0.88],[-0.54,1.04],[-0.57,1.2],[-0.53,1.38],
[-0.31,-1.28],[-0.27,-1.15],[-0.33,-1.02],[-0.29,-0.88],[-0.32,-0.72],[-0.28,-0.56],[-0.31,-0.4],[-0.27,-0.24],[-0.33,-0.08],[-0.29,0.08],[-0.32,0.24],[-0.28,0.4],[-0.31,0.56],[-0.27,0.72],[-0.33,0.88],[-0.29,1.04],[-0.32,1.2],[-0.28,1.4],
[-0.06,-1.3],[-0.02,-1.12],[-0.08,-0.98],[-0.04,-0.82],[-0.07,-0.66],[-0.03,-0.52],[-0.06,-0.36],[-0.02,-0.2],[-0.08,-0.04],[-0.04,0.12],[-0.07,0.28],[-0.03,0.44],[-0.06,0.6],[-0.02,0.76],[-0.08,0.92],[-0.04,1.08],[-0.07,1.24],[-0.03,1.45],
[0.19,-1.28],[0.23,-1.12],[0.17,-0.98],[0.21,-0.82],[0.18,-0.66],[0.22,-0.5],[0.19,-0.34],[0.23,-0.18],[0.17,-0.02],[0.21,0.14],[0.18,0.3],[0.22,0.46],[0.19,0.62],[0.23,0.78],[0.17,0.94],[0.21,1.1],[0.18,1.26],[0.22,1.5],
[0.44,-1.25],[0.48,-1.12],[0.42,-0.98],[0.46,-0.84],[0.43,-0.68],[0.47,-0.52],[0.44,-0.36],[0.48,-0.2],[0.42,-0.04],[0.46,0.12],[0.43,0.28],[0.47,0.44],[0.44,0.6],[0.48,0.76],[0.42,0.92],[0.46,1.08],[0.43,1.24],[0.47,1.45],
[0.69,-1.32],[0.73,-1.12],[0.67,-0.98],[0.71,-0.82],[0.68,-0.66],[0.72,-0.5],[0.69,-0.34],[0.73,-0.18],[0.67,-0.02],[0.71,0.14],[0.68,0.3],[0.72,0.46],[0.69,0.62],[0.73,0.78],[0.67,0.94],[0.71,1.1],[0.68,1.26],[0.72,1.48],
[0.94,-1.18],[0.98,-1.02],[0.92,-0.88],[0.96,-0.72],[0.93,-0.56],[0.97,-0.4],[0.94,-0.24],[0.98,-0.08],[0.92,0.08],[0.96,0.24],[0.93,0.4],[0.97,0.56],[0.94,0.72],[0.98,0.88],[0.92,1.04],[0.96,1.2],[0.93,1.4],
[1.19,-1.08],[1.23,-0.92],[1.17,-0.76],[1.21,-0.6],[1.18,-0.42],[1.22,-0.26],[1.19,-0.1],[1.23,0.06],[1.17,0.22],[1.21,0.38],[1.18,0.54],[1.22,0.7],[1.19,0.86],[1.23,1.02],[1.17,1.18],[1.21,1.4],
[1.44,-0.95],[1.48,-0.8],[1.42,-0.64],[1.46,-0.46],[1.43,-0.3],[1.47,-0.14],[1.44,0.02],[1.48,0.18],[1.42,0.34],[1.46,0.5],[1.43,0.66],[1.47,0.82],[1.44,0.98],[1.48,1.14],[1.42,1.32],
[1.69,-0.78],[1.73,-0.6],[1.67,-0.42],[1.71,-0.24],[1.68,-0.06],[1.72,0.12],[1.69,0.3],[1.73,0.48],[1.67,0.66],[1.71,0.84],[1.68,1.02],[1.72,1.2],[1.69,1.42],
[1.94,-0.65],[1.98,-0.45],[1.92,-0.22],[1.96,0.0],[1.93,0.2],[1.97,0.4],[1.94,0.6],[1.98,0.8],[1.92,1.0],[1.96,1.2],[1.93,1.45],
[2.19,-0.5],[2.23,-0.3],[2.17,-0.05],[2.21,0.15],[2.18,0.35],[2.22,0.55],[2.19,0.75],[2.23,0.95],[2.18,1.15]
];

// ---------------- layout / style ----------------
const panelPoints = [pointsA.concat(coreA), pointsB.concat(coreB), pointsC.concat(coreC),
                     pointsD.concat(coreD), pointsE.concat(coreE), pointsF.concat(coreF)];
const panelFits = [fitA, fitB, fitC, fitD, fitE, fitF];
const colLeft = [0, 1714];
const rowTop = [0, 1190, 2380];
const CW = 1742, CH = 1205;
const AXIS_W = 143, XAXIS_H = 125;
const SANS = '"Liberation Sans", Arial, Helvetica, sans-serif';
const SERIF = '"Liberation Serif", "Times New Roman", serif';
const TICK_COLOR = '#555555';

const decorPlugin = {
  id: 'decor',
  beforeDatasetsDraw(chart) {
    const {ctx, chartArea: a, scales: {x, y}} = chart;
    ctx.save();
    ctx.strokeStyle = '#808080';
    ctx.lineWidth = 2.5;
    ctx.setLineDash([12, 9]);
    const x0 = x.getPixelForValue(0), y0 = y.getPixelForValue(0);
    ctx.beginPath(); ctx.moveTo(x0, a.top); ctx.lineTo(x0, a.bottom); ctx.stroke();
    ctx.beginPath(); ctx.moveTo(a.left, y0); ctx.lineTo(a.right, y0); ctx.stroke();
    ctx.restore();
  },
  afterDraw(chart, args, opts) {
    const {ctx, chartArea: a, scales: {x, y}} = chart;
    ctx.save();
    ctx.strokeStyle = '#000';
    ctx.lineWidth = 2.2;
    ctx.setLineDash([]);
    axisTicks.forEach(v => {
      const px = x.getPixelForValue(v);
      ctx.beginPath(); ctx.moveTo(px, a.bottom); ctx.lineTo(px, a.bottom - 12); ctx.stroke();
      const py = y.getPixelForValue(v);
      ctx.beginPath(); ctx.moveTo(a.left, py); ctx.lineTo(a.left + 12, py); ctx.stroke();
    });
    ctx.fillStyle = '#000';
    ctx.textBaseline = 'alphabetic';
    ctx.textAlign = 'right';
    ctx.font = '45px ' + SANS;
    ctx.fillText("Moran's I = " + opts.moran, a.right - 105, a.top + 42);
    let cx = a.right - 107;
    const by = a.top + 94;
    ctx.font = '45px ' + SANS;
    ctx.fillText(opts.p, cx, by);
    cx -= ctx.measureText(opts.p).width + 11;
    ctx.font = '45px ' + SERIF;
    ctx.fillText('=', cx, by);
    cx -= ctx.measureText('=').width + 11;
    ctx.font = 'italic 47px ' + SERIF;
    ctx.fillText('p', cx, by);
    ctx.textAlign = 'center';
    ctx.font = '51px ' + SANS;
    ctx.fillText(opts.caption, (a.left + a.right) / 2, a.bottom + 179);
    ctx.restore();
  }
};

const wrap = document.getElementById('wrap');
for (let i = 0; i < 6; i++) {
  const col = i % 2, row = Math.floor(i / 2);
  const cv = document.createElement('canvas');
  cv.width = CW; cv.height = CH;
  cv.style.width = CW + 'px'; cv.style.height = CH + 'px';
  cv.style.left = colLeft[col] + 'px';
  cv.style.top = rowTop[row] + 'px';
  wrap.appendChild(cv);

  const pts = panelPoints[i].map(p => ({x: p[0], y: p[1]}));
  const fit = panelFits[i].map(p => ({x: p[0], y: p[1]}));

  new Chart(cv, {
    type: 'scatter',
    data: {
      datasets: [
        {label: 'fit', data: fit, showLine: true, borderColor: '#000', borderWidth: 4.5, pointRadius: 0, fill: false, order: 0},
        {label: 'points', data: pts, pointRadius: 4.5, pointBorderWidth: 3, borderColor: '#606060', backgroundColor: '#ffffff', pointStyle: 'circle', order: 1}
      ]
    },
    options: {
      responsive: false, animation: false, devicePixelRatio: 1,
      layout: {padding: {left: 0, top: 40, right: 40, bottom: 75}},
      plugins: {
        legend: {display: false}, tooltip: {enabled: false},
        decor: {moran: moranValues[i], p: pValues[i], caption: panelLabels[i]}
      },
      scales: {
        x: {
          type: 'linear', min: -6, max: 6,
          afterBuildTicks: s => { s.ticks = axisTicks.map(v => ({value: v})); },
          afterFit: s => { s.height = XAXIS_H; },
          grid: {display: false},
          border: {display: true, color: '#000', width: 3},
          ticks: {color: TICK_COLOR, font: {size: 43, family: SANS}, padding: 14, maxRotation: 0, autoSkip: false},
          title: {display: true, text: xTitle, color: '#000', font: {size: 51, family: SANS}, padding: {top: 0, bottom: 2}}
        },
        y: {
          type: 'linear', min: -6, max: 6,
          afterBuildTicks: s => { s.ticks = axisTicks.map(v => ({value: v})); },
          afterFit: s => { s.width = AXIS_W; },
          grid: {display: false},
          border: {display: true, color: '#000', width: 3},
          ticks: {color: TICK_COLOR, font: {size: 43, family: SANS}, padding: 17, autoSkip: false},
          title: {display: true, text: yTitle, color: '#000', font: {size: 51, family: SANS}, padding: {top: 20, bottom: 0}}
        }
      }
    },
    plugins: [decorPlugin]
  });
}
</script>
</body></html>
